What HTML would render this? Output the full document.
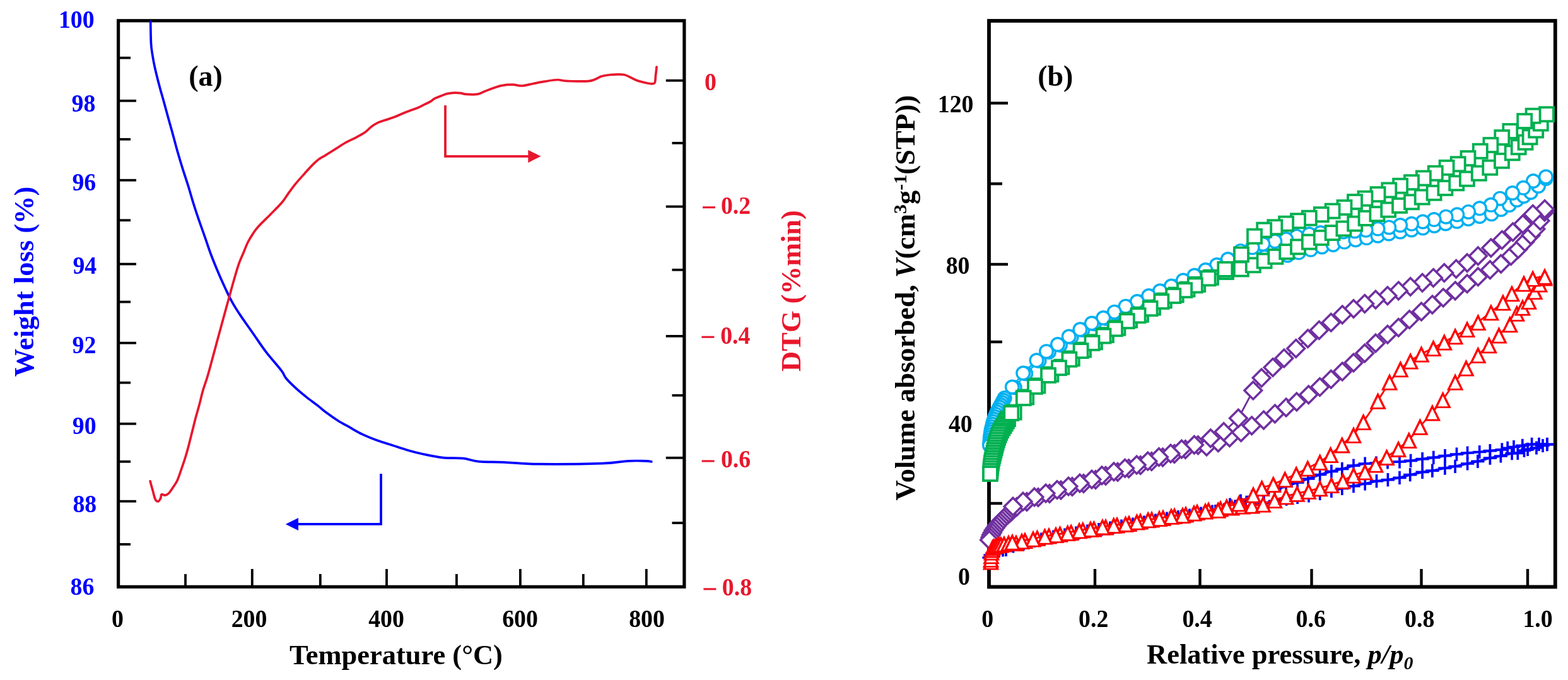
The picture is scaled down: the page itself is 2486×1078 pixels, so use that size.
<!DOCTYPE html>
<html><head><meta charset="utf-8"><title>Figure</title>
<style>html,body{margin:0;padding:0;background:#fff;}svg{display:block;}</style></head>
<body><svg width="2486" height="1078" viewBox="0 0 2486 1078">
<rect width="2486" height="1078" fill="#fff"/>
<rect x="187.6" y="32.8" width="897.3000000000001" height="897.5" fill="none" stroke="#000" stroke-width="5.2"/>
<line x1="187.6" y1="91.7" x2="207" y2="91.7" stroke="#000" stroke-width="3.8"/>
<line x1="187.6" y1="159.8" x2="216" y2="159.8" stroke="#000" stroke-width="3.8"/>
<line x1="187.6" y1="220.8" x2="207" y2="220.8" stroke="#000" stroke-width="3.8"/>
<line x1="187.6" y1="285.7" x2="216" y2="285.7" stroke="#000" stroke-width="3.8"/>
<line x1="187.6" y1="349.2" x2="207" y2="349.2" stroke="#000" stroke-width="3.8"/>
<line x1="187.6" y1="418.6" x2="216" y2="418.6" stroke="#000" stroke-width="3.8"/>
<line x1="187.6" y1="478.6" x2="207" y2="478.6" stroke="#000" stroke-width="3.8"/>
<line x1="187.6" y1="543.7" x2="216" y2="543.7" stroke="#000" stroke-width="3.8"/>
<line x1="187.6" y1="606.7" x2="207" y2="606.7" stroke="#000" stroke-width="3.8"/>
<line x1="187.6" y1="671.8" x2="216" y2="671.8" stroke="#000" stroke-width="3.8"/>
<line x1="187.6" y1="731.8" x2="207" y2="731.8" stroke="#000" stroke-width="3.8"/>
<line x1="187.6" y1="794.7" x2="216" y2="794.7" stroke="#000" stroke-width="3.8"/>
<line x1="187.6" y1="862.9" x2="207" y2="862.9" stroke="#000" stroke-width="3.8"/>
<line x1="1055.8" y1="127.7" x2="1084.9" y2="127.7" stroke="#000" stroke-width="3.8"/>
<line x1="1065.5" y1="226.8" x2="1084.9" y2="226.8" stroke="#000" stroke-width="3.8"/>
<line x1="1055.8" y1="327.5" x2="1084.9" y2="327.5" stroke="#000" stroke-width="3.8"/>
<line x1="1065.5" y1="427.8" x2="1084.9" y2="427.8" stroke="#000" stroke-width="3.8"/>
<line x1="1055.8" y1="532.9" x2="1084.9" y2="532.9" stroke="#000" stroke-width="3.8"/>
<line x1="1065.5" y1="626.8" x2="1084.9" y2="626.8" stroke="#000" stroke-width="3.8"/>
<line x1="1055.8" y1="725.8" x2="1084.9" y2="725.8" stroke="#000" stroke-width="3.8"/>
<line x1="1065.5" y1="829" x2="1084.9" y2="829" stroke="#000" stroke-width="3.8"/>
<line x1="294" y1="910" x2="294" y2="930.3" stroke="#000" stroke-width="3.8"/>
<line x1="399.8" y1="902" x2="399.8" y2="930.3" stroke="#000" stroke-width="3.8"/>
<line x1="507.8" y1="910" x2="507.8" y2="930.3" stroke="#000" stroke-width="3.8"/>
<line x1="613" y1="902" x2="613" y2="930.3" stroke="#000" stroke-width="3.8"/>
<line x1="723.9" y1="910" x2="723.9" y2="930.3" stroke="#000" stroke-width="3.8"/>
<line x1="824.9" y1="902" x2="824.9" y2="930.3" stroke="#000" stroke-width="3.8"/>
<line x1="924.8" y1="910" x2="924.8" y2="930.3" stroke="#000" stroke-width="3.8"/>
<line x1="1024.8" y1="902" x2="1024.8" y2="930.3" stroke="#000" stroke-width="3.8"/>
<rect x="1568" y="33" width="897.8000000000002" height="897.4" fill="none" stroke="#000" stroke-width="5.8"/>
<line x1="1568" y1="163.5" x2="1598" y2="163.5" stroke="#000" stroke-width="4.3999999999999995"/>
<line x1="1568" y1="291.3" x2="1589" y2="291.3" stroke="#000" stroke-width="4.3999999999999995"/>
<line x1="1568" y1="419" x2="1598" y2="419" stroke="#000" stroke-width="4.3999999999999995"/>
<line x1="1568" y1="542" x2="1589" y2="542" stroke="#000" stroke-width="4.3999999999999995"/>
<line x1="1568" y1="670" x2="1598" y2="670" stroke="#000" stroke-width="4.3999999999999995"/>
<line x1="1568" y1="798" x2="1589" y2="798" stroke="#000" stroke-width="4.3999999999999995"/>
<line x1="1736" y1="902" x2="1736" y2="930.4" stroke="#000" stroke-width="4.3999999999999995"/>
<line x1="1902.5" y1="902" x2="1902.5" y2="930.4" stroke="#000" stroke-width="4.3999999999999995"/>
<line x1="2079.5" y1="902" x2="2079.5" y2="930.4" stroke="#000" stroke-width="4.3999999999999995"/>
<line x1="2253.5" y1="902" x2="2253.5" y2="930.4" stroke="#000" stroke-width="4.3999999999999995"/>
<line x1="2422" y1="902" x2="2422" y2="930.4" stroke="#000" stroke-width="4.3999999999999995"/>
<g font-family='"Liberation Serif", "Times New Roman", serif' font-weight="bold">
<text transform="translate(121.3,43.8) scale(0.945,1)" font-size="40" fill="#0000FF" text-anchor="middle">100</text>
<text transform="translate(132.5,176.5) scale(0.945,1)" font-size="40" fill="#0000FF" text-anchor="middle">98</text>
<text transform="translate(133.3,302) scale(0.945,1)" font-size="40" fill="#0000FF" text-anchor="middle">96</text>
<text transform="translate(134.3,434) scale(0.945,1)" font-size="40" fill="#0000FF" text-anchor="middle">94</text>
<text transform="translate(133.5,559.5) scale(0.945,1)" font-size="40" fill="#0000FF" text-anchor="middle">92</text>
<text transform="translate(133.7,688.3) scale(0.945,1)" font-size="40" fill="#0000FF" text-anchor="middle">90</text>
<text transform="translate(134.3,812) scale(0.945,1)" font-size="40" fill="#0000FF" text-anchor="middle">88</text>
<text transform="translate(130.5,942.6) scale(0.945,1)" font-size="40" fill="#0000FF" text-anchor="middle">86</text>
<text transform="translate(186.5,994.1) scale(0.945,1)" font-size="40" fill="#000" text-anchor="middle">0</text>
<text transform="translate(395,994.1) scale(0.945,1)" font-size="40" fill="#000" text-anchor="middle">200</text>
<text transform="translate(612.5,994.1) scale(0.945,1)" font-size="40" fill="#000" text-anchor="middle">400</text>
<text transform="translate(824.5,994.1) scale(0.945,1)" font-size="40" fill="#000" text-anchor="middle">600</text>
<text transform="translate(1025.5,994.1) scale(0.945,1)" font-size="40" fill="#000" text-anchor="middle">800</text>
<text transform="translate(1126.5,142.8) scale(0.945,1)" font-size="40" fill="#E8172D" text-anchor="middle">0</text>
<rect x="1114" y="327.2" width="20" height="3.1" fill="#E8172D"/>
<text transform="translate(1166.5,339.2) scale(0.945,1)" font-size="40" fill="#E8172D" text-anchor="middle">0.2</text>
<rect x="1112.4" y="532.7" width="20" height="3.1" fill="#E8172D"/>
<text transform="translate(1165.8,544.7) scale(0.945,1)" font-size="40" fill="#E8172D" text-anchor="middle">0.4</text>
<rect x="1112.6" y="729.4" width="20" height="3.1" fill="#E8172D"/>
<text transform="translate(1166.5,741.4) scale(0.945,1)" font-size="40" fill="#E8172D" text-anchor="middle">0.6</text>
<rect x="1115.4" y="932.3" width="20" height="3.1" fill="#E8172D"/>
<text transform="translate(1168.4,944.3) scale(0.945,1)" font-size="40" fill="#E8172D" text-anchor="middle">0.8</text>
<text x="628" y="1052.5" font-size="44.5" fill="#000" text-anchor="middle">Temperature (°C)</text>
<text x="326" y="135.5" font-size="46" fill="#000" text-anchor="middle">(a)</text>
<text transform="translate(52.5,446.5) rotate(-90)" font-size="44.5" fill="#0000FF" text-anchor="middle" dy="0">Weight loss (%)</text>
<text transform="translate(1269,461) rotate(-90)" font-size="44.5" fill="#E8172D" text-anchor="middle">DTG (%min)</text>
<text transform="translate(1515.1,178.2) scale(0.945,1)" font-size="40" fill="#000" text-anchor="middle">120</text>
<text transform="translate(1518.6,433.9) scale(0.945,1)" font-size="40" fill="#000" text-anchor="middle">80</text>
<text transform="translate(1522.8,685.2) scale(0.945,1)" font-size="40" fill="#000" text-anchor="middle">40</text>
<text transform="translate(1528.5,926.6) scale(0.945,1)" font-size="40" fill="#000" text-anchor="middle">0</text>
<text transform="translate(1565.6,993.9) scale(0.945,1)" font-size="40" fill="#000" text-anchor="middle">0</text>
<text transform="translate(1733.7,993.9) scale(0.945,1)" font-size="40" fill="#000" text-anchor="middle">0.2</text>
<text transform="translate(1898,993.9) scale(0.945,1)" font-size="40" fill="#000" text-anchor="middle">0.4</text>
<text transform="translate(2078.2,993.9) scale(0.945,1)" font-size="40" fill="#000" text-anchor="middle">0.6</text>
<text transform="translate(2250.7,993.9) scale(0.945,1)" font-size="40" fill="#000" text-anchor="middle">0.8</text>
<text transform="translate(2438,993.9) scale(0.945,1)" font-size="40" fill="#000" text-anchor="middle">1.0</text>
<text x="1673.3" y="135.5" font-size="46" fill="#000" text-anchor="middle">(b)</text>
<text x="1818" y="1052" font-size="44.5" text-anchor="start">Relative pressure, <tspan font-style="italic">p/p</tspan><tspan font-style="italic" font-size="30" dy="9">0</tspan></text>
<text transform="translate(1449.8,472) rotate(-90)" font-size="44.5" text-anchor="middle">Volume absorbed, <tspan font-style="italic">V</tspan>(cm<tspan font-size="30" dy="-12.5">3</tspan><tspan dy="12.5">g</tspan><tspan font-size="30" dy="-12.5">-1</tspan><tspan dy="12.5">(STP))</tspan></text>
</g>
<path d="M238.7,34.2C238.8,40.0 239.0,60.4 239.5,69.0C240.0,77.6 240.5,79.2 241.5,85.7C242.5,92.2 243.8,99.7 245.7,108.0C247.5,116.3 250.3,127.0 252.6,135.8C254.9,144.6 257.3,152.5 259.6,160.8C261.9,169.2 264.2,177.6 266.5,185.9C268.8,194.2 270.9,201.6 273.5,210.9C276.1,220.2 279.0,231.8 281.8,241.5C284.6,251.2 287.4,260.5 290.2,269.4C293.0,278.3 295.8,286.2 298.5,295.0C301.2,303.8 303.8,313.2 306.5,322.0C309.2,330.8 311.9,338.9 315.0,347.8C318.1,356.8 321.6,366.4 324.8,375.7C328.1,385.0 331.0,394.2 334.5,403.5C338.0,412.8 341.8,422.0 345.7,431.3C349.6,440.6 354.5,451.3 358.2,459.2C361.9,467.1 364.0,471.7 367.9,478.6C371.8,485.6 376.2,492.5 381.8,500.9C387.4,509.2 394.8,519.4 401.3,528.7C407.8,538.0 413.4,546.9 420.8,556.6C428.2,566.4 440.4,580.0 445.9,587.2C451.4,594.4 449.7,595.1 453.8,600.0C457.9,604.9 464.9,611.6 470.5,616.7C476.1,621.8 481.6,626.2 487.2,630.6C492.8,635.0 498.8,639.1 503.9,643.1C509.0,647.1 512.6,650.6 518.0,654.6C523.4,658.6 530.0,663.2 536.0,667.0C542.0,670.8 547.6,673.6 554.0,677.2C560.4,680.8 566.8,684.8 574.3,688.4C581.8,692.0 591.2,695.7 599.1,698.6C607.0,701.5 613.7,703.3 621.6,705.8C629.5,708.3 638.1,711.3 646.4,713.7C654.7,716.1 661.8,718.0 671.2,720.0C680.6,722.0 692.2,724.5 702.7,725.6C713.2,726.7 724.9,725.7 734.3,726.7C743.7,727.7 748.2,730.7 759.1,731.7C770.0,732.7 783.8,732.1 799.6,732.8C815.4,733.5 827.8,735.4 853.7,735.7C879.6,736.0 931.4,735.4 955.0,734.6C978.6,733.8 984.0,731.4 995.6,730.8C1007.2,730.2 1018.7,730.6 1024.9,730.8C1031.1,731.0 1031.5,731.7 1032.8,731.9" fill="none" stroke="#0000FF" stroke-width="3.7" stroke-linejoin="round" stroke-linecap="round"/>
<path d="M238.1,762.8C238.8,765.3 240.9,773.2 242.3,778.1C243.7,783.0 244.9,789.2 246.4,792.0C247.9,794.8 249.8,795.2 251.2,794.8C252.6,794.3 254.0,791.1 254.8,789.3C255.6,787.4 255.0,784.4 256.2,783.7C257.3,783.0 259.8,785.3 261.7,785.1C263.6,784.9 265.2,784.4 267.3,782.3C269.4,780.2 272.0,776.1 274.3,772.6C276.6,769.1 278.9,766.5 281.2,761.4C283.5,756.3 286.1,747.9 288.2,741.9C290.3,735.9 291.9,731.2 293.8,725.2C295.7,719.2 297.5,712.8 299.3,705.8C301.1,698.8 303.0,690.9 304.9,683.5C306.8,676.1 308.6,668.2 310.5,661.2C312.4,654.2 314.1,648.7 316.0,641.7C317.9,634.8 319.6,626.5 321.6,619.5C323.6,612.5 326.3,605.4 328.0,600.0C329.7,594.6 329.4,595.4 331.7,587.2C333.9,579.0 338.5,562.1 341.5,551.0C344.5,539.9 347.0,530.6 349.8,520.4C352.6,510.2 355.6,499.1 358.2,489.8C360.8,480.5 362.8,473.1 365.1,464.7C367.4,456.3 369.8,447.6 372.1,439.7C374.4,431.8 376.7,423.9 379.0,417.4C381.3,410.9 383.7,406.3 386.0,400.7C388.3,395.1 390.4,389.1 393.0,384.0C395.6,378.9 398.5,374.3 401.3,370.1C404.1,365.9 405.1,364.1 409.7,359.0C414.3,353.9 423.1,345.7 429.2,339.5C435.3,333.3 441.8,327.1 446.3,321.8C450.9,316.5 452.8,312.7 456.5,307.6C460.2,302.5 464.4,296.6 468.8,291.2C473.2,285.8 478.7,279.8 483.1,274.9C487.5,270.0 491.6,265.4 495.3,261.6C499.0,257.9 502.1,255.0 505.5,252.4C508.9,249.8 511.3,249.0 515.7,246.3C520.1,243.6 526.5,239.5 532.0,236.1C537.5,232.7 542.9,228.9 548.4,225.9C553.9,222.9 559.6,220.5 564.7,217.8C569.8,215.1 574.9,212.5 579.0,209.6C583.1,206.7 585.8,202.9 589.2,200.4C592.6,197.9 596.0,195.9 599.4,194.3C602.8,192.7 605.5,192.2 609.6,190.8C613.7,189.4 619.1,187.9 623.9,186.1C628.7,184.3 633.8,181.8 638.2,180.0C642.6,178.2 646.3,176.8 650.4,175.3C654.5,173.8 659.0,172.4 662.7,170.8C666.5,169.2 669.5,167.4 672.9,165.7C676.3,164.0 680.4,162.2 683.1,160.6C685.8,159.0 685.8,157.8 689.2,156.1C692.6,154.4 700.2,151.7 703.5,150.4C706.8,149.2 705.9,149.1 708.7,148.6C711.5,148.1 716.7,147.4 720.3,147.2C723.9,147.0 727.3,147.2 730.4,147.6C733.5,148.0 734.8,149.1 739.1,149.4C743.5,149.7 751.7,150.1 756.5,149.4C761.3,148.7 764.0,146.6 768.1,145.0C772.2,143.4 776.5,141.6 781.1,140.0C785.7,138.4 790.3,136.6 795.6,135.6C800.9,134.6 807.6,134.1 812.9,134.2C818.2,134.3 822.1,136.2 827.4,136.0C832.7,135.8 838.8,133.8 844.8,132.7C850.8,131.5 857.1,130.1 863.6,129.1C870.1,128.1 878.1,126.6 883.9,126.5C889.7,126.4 889.9,128.1 898.4,128.4C906.9,128.7 925.4,129.6 934.6,128.4C943.8,127.2 947.9,122.8 953.4,121.1C958.9,119.4 961.9,118.9 967.9,118.5C973.9,118.1 982.9,117.1 989.6,118.5C996.4,119.9 1002.4,124.7 1008.4,126.9C1014.4,129.1 1021.0,130.8 1025.8,131.7C1030.6,132.5 1035.1,134.1 1037.4,132.0C1039.7,129.9 1039.0,123.3 1039.6,119.0C1040.2,114.7 1040.8,108.2 1041.0,106.0" fill="none" stroke="#E8172D" stroke-width="3.7" stroke-linejoin="round" stroke-linecap="round"/>
<path d="M604,751 V830.9 H472" fill="none" stroke="#0000FF" stroke-width="3.8"/>
<polygon points="452.8,831 473,821 473,841" fill="#0000FF"/>
<path d="M706,167 V247.8 H838" fill="none" stroke="#E8172D" stroke-width="3.8"/>
<polygon points="857.5,247.8 837.3,237.8 837.3,257.9" fill="#E8172D"/>
<g>
<polyline points="1568.0,884.0 1570.0,880.0 1573.0,877.0 1578.0,875.0 1584.0,873.0 1590.0,872.0 1595.0,871.5 1606.5,866.0 1623.0,862.0 1640.0,857.5 1651.0,855.0 1670.0,851.0 1688.0,848.0 1706.0,845.0 1724.0,842.0 1742.0,839.5 1760.0,837.0 1778.0,834.0 1796.0,831.0 1814.0,828.0 1832.0,825.0 1850.0,822.0 1868.0,819.5 1886.0,817.0 1904.0,814.0 1922.0,811.0 1941.0,808.0 1958.0,806.0 1975.0,803.0 1990.0,800.0 2003.9,797.6 2021.4,794.3 2039.6,791.1 2057.1,788.5 2075.0,786.0 2092.7,782.3 2110.9,778.4 2127.8,774.5 2146.0,770.6 2164.2,766.8 2182.5,762.7 2200.4,760.6 2219.0,757.3 2235.7,752.7 2255.1,748.4 2270.9,746.2 2290.9,742.1 2307.1,739.3 2326.6,735.0 2342.9,731.3 2362.4,726.1 2379.4,723.0 2397.1,718.7 2406.3,718.3 2416.5,714.2 2422.1,712.4 2436.0,710.0 2446.0,706.5 2453.0,704.6" fill="none" stroke="#0000FF" stroke-width="3.6" stroke-linejoin="round"/>
<path d="M1579.4,872.0H1600.6M1590.0,861.4V882.6" stroke="#0000FF" stroke-width="3.7" fill="none"/>
<path d="M1573.4,873.0H1594.6M1584.0,862.4V883.6" stroke="#0000FF" stroke-width="3.7" fill="none"/>
<path d="M1567.4,875.0H1588.6M1578.0,864.4V885.6" stroke="#0000FF" stroke-width="3.7" fill="none"/>
<path d="M1562.4,877.0H1583.6M1573.0,866.4V887.6" stroke="#0000FF" stroke-width="3.7" fill="none"/>
<path d="M1559.4,880.0H1580.6M1570.0,869.4V890.6" stroke="#0000FF" stroke-width="3.7" fill="none"/>
<path d="M1557.4,884.0H1578.6M1568.0,873.4V894.6" stroke="#0000FF" stroke-width="3.7" fill="none"/>
<path d="M1584.4,871.5H1605.6M1595.0,860.9V882.1" stroke="#0000FF" stroke-width="3.7" fill="none"/>
<path d="M1595.9,866.0H1617.1M1606.5,855.4V876.6" stroke="#0000FF" stroke-width="3.7" fill="none"/>
<path d="M1612.4,862.0H1633.6M1623.0,851.4V872.6" stroke="#0000FF" stroke-width="3.7" fill="none"/>
<path d="M1629.4,857.5H1650.6M1640.0,846.9V868.1" stroke="#0000FF" stroke-width="3.7" fill="none"/>
<path d="M1640.4,855.0H1661.6M1651.0,844.4V865.6" stroke="#0000FF" stroke-width="3.7" fill="none"/>
<path d="M1659.4,851.0H1680.6M1670.0,840.4V861.6" stroke="#0000FF" stroke-width="3.7" fill="none"/>
<path d="M1677.4,848.0H1698.6M1688.0,837.4V858.6" stroke="#0000FF" stroke-width="3.7" fill="none"/>
<path d="M1695.4,845.0H1716.6M1706.0,834.4V855.6" stroke="#0000FF" stroke-width="3.7" fill="none"/>
<path d="M1713.4,842.0H1734.6M1724.0,831.4V852.6" stroke="#0000FF" stroke-width="3.7" fill="none"/>
<path d="M1731.4,839.5H1752.6M1742.0,828.9V850.1" stroke="#0000FF" stroke-width="3.7" fill="none"/>
<path d="M1749.4,837.0H1770.6M1760.0,826.4V847.6" stroke="#0000FF" stroke-width="3.7" fill="none"/>
<path d="M1767.4,834.0H1788.6M1778.0,823.4V844.6" stroke="#0000FF" stroke-width="3.7" fill="none"/>
<path d="M1785.4,831.0H1806.6M1796.0,820.4V841.6" stroke="#0000FF" stroke-width="3.7" fill="none"/>
<path d="M1803.4,828.0H1824.6M1814.0,817.4V838.6" stroke="#0000FF" stroke-width="3.7" fill="none"/>
<path d="M1821.4,825.0H1842.6M1832.0,814.4V835.6" stroke="#0000FF" stroke-width="3.7" fill="none"/>
<path d="M1839.4,822.0H1860.6M1850.0,811.4V832.6" stroke="#0000FF" stroke-width="3.7" fill="none"/>
<path d="M1857.4,819.5H1878.6M1868.0,808.9V830.1" stroke="#0000FF" stroke-width="3.7" fill="none"/>
<path d="M1875.4,817.0H1896.6M1886.0,806.4V827.6" stroke="#0000FF" stroke-width="3.7" fill="none"/>
<path d="M1893.4,814.0H1914.6M1904.0,803.4V824.6" stroke="#0000FF" stroke-width="3.7" fill="none"/>
<path d="M1911.4,811.0H1932.6M1922.0,800.4V821.6" stroke="#0000FF" stroke-width="3.7" fill="none"/>
<path d="M1930.4,808.0H1951.6M1941.0,797.4V818.6" stroke="#0000FF" stroke-width="3.7" fill="none"/>
<path d="M1947.4,806.0H1968.6M1958.0,795.4V816.6" stroke="#0000FF" stroke-width="3.7" fill="none"/>
<path d="M1964.4,803.0H1985.6M1975.0,792.4V813.6" stroke="#0000FF" stroke-width="3.7" fill="none"/>
<path d="M1979.4,800.0H2000.6M1990.0,789.4V810.6" stroke="#0000FF" stroke-width="3.7" fill="none"/>
<path d="M1993.3,797.6H2014.5M2003.9,787.0V808.2" stroke="#0000FF" stroke-width="3.7" fill="none"/>
<path d="M2010.8,794.3H2032.0M2021.4,783.7V804.9" stroke="#0000FF" stroke-width="3.7" fill="none"/>
<path d="M2029.0,791.1H2050.2M2039.6,780.5V801.7" stroke="#0000FF" stroke-width="3.7" fill="none"/>
<path d="M2046.5,788.5H2067.7M2057.1,777.9V799.1" stroke="#0000FF" stroke-width="3.7" fill="none"/>
<path d="M2064.4,786.0H2085.6M2075.0,775.4V796.6" stroke="#0000FF" stroke-width="3.7" fill="none"/>
<path d="M2082.1,782.3H2103.3M2092.7,771.7V792.9" stroke="#0000FF" stroke-width="3.7" fill="none"/>
<path d="M2100.3,778.4H2121.5M2110.9,767.8V789.0" stroke="#0000FF" stroke-width="3.7" fill="none"/>
<path d="M2117.2,774.5H2138.4M2127.8,763.9V785.1" stroke="#0000FF" stroke-width="3.7" fill="none"/>
<path d="M2135.4,770.6H2156.6M2146.0,760.0V781.2" stroke="#0000FF" stroke-width="3.7" fill="none"/>
<path d="M2153.6,766.8H2174.8M2164.2,756.2V777.4" stroke="#0000FF" stroke-width="3.7" fill="none"/>
<path d="M2171.9,762.7H2193.1M2182.5,752.1V773.3" stroke="#0000FF" stroke-width="3.7" fill="none"/>
<path d="M2189.8,760.6H2211.0M2200.4,750.0V771.2" stroke="#0000FF" stroke-width="3.7" fill="none"/>
<path d="M2208.4,757.3H2229.6M2219.0,746.7V767.9" stroke="#0000FF" stroke-width="3.7" fill="none"/>
<path d="M2225.1,752.7H2246.3M2235.7,742.1V763.3" stroke="#0000FF" stroke-width="3.7" fill="none"/>
<path d="M2244.5,748.4H2265.7M2255.1,737.8V759.0" stroke="#0000FF" stroke-width="3.7" fill="none"/>
<path d="M2260.3,746.2H2281.5M2270.9,735.6V756.8" stroke="#0000FF" stroke-width="3.7" fill="none"/>
<path d="M2280.3,742.1H2301.5M2290.9,731.5V752.7" stroke="#0000FF" stroke-width="3.7" fill="none"/>
<path d="M2296.5,739.3H2317.7M2307.1,728.7V749.9" stroke="#0000FF" stroke-width="3.7" fill="none"/>
<path d="M2316.0,735.0H2337.2M2326.6,724.4V745.6" stroke="#0000FF" stroke-width="3.7" fill="none"/>
<path d="M2332.3,731.3H2353.5M2342.9,720.7V741.9" stroke="#0000FF" stroke-width="3.7" fill="none"/>
<path d="M2351.8,726.1H2373.0M2362.4,715.5V736.7" stroke="#0000FF" stroke-width="3.7" fill="none"/>
<path d="M2368.8,723.0H2390.0M2379.4,712.4V733.6" stroke="#0000FF" stroke-width="3.7" fill="none"/>
<path d="M2386.5,718.7H2407.7M2397.1,708.1V729.3" stroke="#0000FF" stroke-width="3.7" fill="none"/>
<path d="M2395.7,718.3H2416.9M2406.3,707.7V728.9" stroke="#0000FF" stroke-width="3.7" fill="none"/>
<path d="M2405.9,714.2H2427.1M2416.5,703.6V724.8" stroke="#0000FF" stroke-width="3.7" fill="none"/>
<path d="M2411.5,712.4H2432.7M2422.1,701.8V723.0" stroke="#0000FF" stroke-width="3.7" fill="none"/>
<path d="M2425.4,710.0H2446.6M2436.0,699.4V720.6" stroke="#0000FF" stroke-width="3.7" fill="none"/>
<path d="M2435.4,706.5H2456.6M2446.0,695.9V717.1" stroke="#0000FF" stroke-width="3.7" fill="none"/>
<path d="M2442.4,704.6H2463.6M2453.0,694.0V715.2" stroke="#0000FF" stroke-width="3.7" fill="none"/>
<polyline points="2453.0,704.4 2440.0,704.4 2428.6,704.4 2413.8,706.3 2400.0,708.5 2390.2,710.4 2381.3,712.8 2362.4,714.6 2345.7,716.5 2326.6,718.0 2309.5,720.2 2291.0,722.6 2272.8,725.4 2255.1,727.6 2236.6,730.4 2219.0,732.0 2200.0,733.0 2182.0,734.0 2164.2,735.0 2146.0,738.2 2127.8,743.4 2110.9,747.3 2092.7,752.5 2074.0,759.0 2057.0,765.0 2039.0,771.0 2021.0,776.5 2003.0,782.0 1985.0,787.5 1967.0,794.0 1950.0,800.0 1946.0,807.5 1927.0,810.5 1909.0,813.5 1891.0,816.5 1873.0,819.0 1855.0,821.5 1837.0,824.5 1819.0,827.5 1801.0,830.5 1783.0,833.5 1765.0,836.5 1747.0,839.0 1729.0,841.5 1711.0,844.5 1693.0,847.5 1675.0,850.5 1656.0,854.5" fill="none" stroke="#0000FF" stroke-width="3.6" stroke-linejoin="round"/>
<path d="M2442.4,704.4H2463.6M2453.0,693.8V715.0" stroke="#0000FF" stroke-width="3.7" fill="none"/>
<path d="M2429.4,704.4H2450.6M2440.0,693.8V715.0" stroke="#0000FF" stroke-width="3.7" fill="none"/>
<path d="M2418.0,704.4H2439.2M2428.6,693.8V715.0" stroke="#0000FF" stroke-width="3.7" fill="none"/>
<path d="M2403.2,706.3H2424.4M2413.8,695.7V716.9" stroke="#0000FF" stroke-width="3.7" fill="none"/>
<path d="M2389.4,708.5H2410.6M2400.0,697.9V719.1" stroke="#0000FF" stroke-width="3.7" fill="none"/>
<path d="M2379.6,710.4H2400.8M2390.2,699.8V721.0" stroke="#0000FF" stroke-width="3.7" fill="none"/>
<path d="M2370.7,712.8H2391.9M2381.3,702.2V723.4" stroke="#0000FF" stroke-width="3.7" fill="none"/>
<path d="M2351.8,714.6H2373.0M2362.4,704.0V725.2" stroke="#0000FF" stroke-width="3.7" fill="none"/>
<path d="M2335.1,716.5H2356.3M2345.7,705.9V727.1" stroke="#0000FF" stroke-width="3.7" fill="none"/>
<path d="M2316.0,718.0H2337.2M2326.6,707.4V728.6" stroke="#0000FF" stroke-width="3.7" fill="none"/>
<path d="M2298.9,720.2H2320.1M2309.5,709.6V730.8" stroke="#0000FF" stroke-width="3.7" fill="none"/>
<path d="M2280.4,722.6H2301.6M2291.0,712.0V733.2" stroke="#0000FF" stroke-width="3.7" fill="none"/>
<path d="M2262.2,725.4H2283.4M2272.8,714.8V736.0" stroke="#0000FF" stroke-width="3.7" fill="none"/>
<path d="M2244.5,727.6H2265.7M2255.1,717.0V738.2" stroke="#0000FF" stroke-width="3.7" fill="none"/>
<path d="M2226.0,730.4H2247.2M2236.6,719.8V741.0" stroke="#0000FF" stroke-width="3.7" fill="none"/>
<path d="M2208.4,732.0H2229.6M2219.0,721.4V742.6" stroke="#0000FF" stroke-width="3.7" fill="none"/>
<path d="M2189.4,733.0H2210.6M2200.0,722.4V743.6" stroke="#0000FF" stroke-width="3.7" fill="none"/>
<path d="M2171.4,734.0H2192.6M2182.0,723.4V744.6" stroke="#0000FF" stroke-width="3.7" fill="none"/>
<path d="M2153.6,735.0H2174.8M2164.2,724.4V745.6" stroke="#0000FF" stroke-width="3.7" fill="none"/>
<path d="M2135.4,738.2H2156.6M2146.0,727.6V748.8" stroke="#0000FF" stroke-width="3.7" fill="none"/>
<path d="M2117.2,743.4H2138.4M2127.8,732.8V754.0" stroke="#0000FF" stroke-width="3.7" fill="none"/>
<path d="M2100.3,747.3H2121.5M2110.9,736.7V757.9" stroke="#0000FF" stroke-width="3.7" fill="none"/>
<path d="M2082.1,752.5H2103.3M2092.7,741.9V763.1" stroke="#0000FF" stroke-width="3.7" fill="none"/>
<path d="M2063.4,759.0H2084.6M2074.0,748.4V769.6" stroke="#0000FF" stroke-width="3.7" fill="none"/>
<path d="M2046.4,765.0H2067.6M2057.0,754.4V775.6" stroke="#0000FF" stroke-width="3.7" fill="none"/>
<path d="M2028.4,771.0H2049.6M2039.0,760.4V781.6" stroke="#0000FF" stroke-width="3.7" fill="none"/>
<path d="M2010.4,776.5H2031.6M2021.0,765.9V787.1" stroke="#0000FF" stroke-width="3.7" fill="none"/>
<path d="M1992.4,782.0H2013.6M2003.0,771.4V792.6" stroke="#0000FF" stroke-width="3.7" fill="none"/>
<path d="M1974.4,787.5H1995.6M1985.0,776.9V798.1" stroke="#0000FF" stroke-width="3.7" fill="none"/>
<path d="M1956.4,794.0H1977.6M1967.0,783.4V804.6" stroke="#0000FF" stroke-width="3.7" fill="none"/>
<path d="M1939.4,800.0H1960.6M1950.0,789.4V810.6" stroke="#0000FF" stroke-width="3.7" fill="none"/>
<path d="M1935.4,807.5H1956.6M1946.0,796.9V818.1" stroke="#0000FF" stroke-width="3.7" fill="none"/>
<path d="M1916.4,810.5H1937.6M1927.0,799.9V821.1" stroke="#0000FF" stroke-width="3.7" fill="none"/>
<path d="M1898.4,813.5H1919.6M1909.0,802.9V824.1" stroke="#0000FF" stroke-width="3.7" fill="none"/>
<path d="M1880.4,816.5H1901.6M1891.0,805.9V827.1" stroke="#0000FF" stroke-width="3.7" fill="none"/>
<path d="M1862.4,819.0H1883.6M1873.0,808.4V829.6" stroke="#0000FF" stroke-width="3.7" fill="none"/>
<path d="M1844.4,821.5H1865.6M1855.0,810.9V832.1" stroke="#0000FF" stroke-width="3.7" fill="none"/>
<path d="M1826.4,824.5H1847.6M1837.0,813.9V835.1" stroke="#0000FF" stroke-width="3.7" fill="none"/>
<path d="M1808.4,827.5H1829.6M1819.0,816.9V838.1" stroke="#0000FF" stroke-width="3.7" fill="none"/>
<path d="M1790.4,830.5H1811.6M1801.0,819.9V841.1" stroke="#0000FF" stroke-width="3.7" fill="none"/>
<path d="M1772.4,833.5H1793.6M1783.0,822.9V844.1" stroke="#0000FF" stroke-width="3.7" fill="none"/>
<path d="M1754.4,836.5H1775.6M1765.0,825.9V847.1" stroke="#0000FF" stroke-width="3.7" fill="none"/>
<path d="M1736.4,839.0H1757.6M1747.0,828.4V849.6" stroke="#0000FF" stroke-width="3.7" fill="none"/>
<path d="M1718.4,841.5H1739.6M1729.0,830.9V852.1" stroke="#0000FF" stroke-width="3.7" fill="none"/>
<path d="M1700.4,844.5H1721.6M1711.0,833.9V855.1" stroke="#0000FF" stroke-width="3.7" fill="none"/>
<path d="M1682.4,847.5H1703.6M1693.0,836.9V858.1" stroke="#0000FF" stroke-width="3.7" fill="none"/>
<path d="M1664.4,850.5H1685.6M1675.0,839.9V861.1" stroke="#0000FF" stroke-width="3.7" fill="none"/>
<path d="M1645.4,854.5H1666.6M1656.0,843.9V865.1" stroke="#0000FF" stroke-width="3.7" fill="none"/>
<polyline points="1569.0,706.0 1569.3,701.8 1569.6,697.6 1569.9,693.4 1570.5,689.3 1571.1,685.1 1571.8,681.0 1572.8,676.9 1573.8,672.8 1574.8,668.7 1576.2,664.8 1577.6,660.8 1579.1,656.9 1580.9,653.1 1582.8,649.4 1584.8,645.6 1586.8,642.0 1588.8,638.3 1590.8,634.6 1592.7,630.9 1608.8,614.3 1626.2,592.3 1647.5,572.1 1663.0,558.0 1681.0,546.9 1698.7,534.3 1716.5,523.1 1734.9,513.3 1753.3,504.8 1770.8,495.5 1788.6,486.5 1806.9,478.8 1825.3,469.8 1843.1,462.1 1861.0,454.3 1879.9,445.4 1897.7,437.6 1915.3,428.8 1933.2,420.8 1951.0,413.0 1967.0,411.5 1988.0,409.0 2005.0,407.5 2023.0,405.5 2041.3,404.7 2059.1,400.3 2078.1,395.8 2095.9,391.4 2113.7,388.0 2131.5,383.6 2149.3,380.2 2166.7,377.1 2184.5,373.7 2202.0,370.5 2220.0,367.5 2238.0,364.5 2256.0,361.5 2274.0,358.0 2292.0,354.5 2310.0,351.0 2328.0,347.0 2346.0,343.0 2364.8,339.2 2380.0,332.0 2393.0,325.0 2405.0,317.0 2416.0,311.0 2427.0,305.0 2439.0,295.0 2451.0,283.0" fill="none" stroke="#00B0F0" stroke-width="2.8" stroke-linejoin="round"/>
<circle cx="1592.7" cy="630.9" r="10.3" fill="#fff" stroke="#00B0F0" stroke-width="3.4"/>
<circle cx="1590.8" cy="634.6" r="10.3" fill="#fff" stroke="#00B0F0" stroke-width="3.4"/>
<circle cx="1588.8" cy="638.3" r="10.3" fill="#fff" stroke="#00B0F0" stroke-width="3.4"/>
<circle cx="1586.8" cy="642.0" r="10.3" fill="#fff" stroke="#00B0F0" stroke-width="3.4"/>
<circle cx="1584.8" cy="645.6" r="10.3" fill="#fff" stroke="#00B0F0" stroke-width="3.4"/>
<circle cx="1582.8" cy="649.4" r="10.3" fill="#fff" stroke="#00B0F0" stroke-width="3.4"/>
<circle cx="1580.9" cy="653.1" r="10.3" fill="#fff" stroke="#00B0F0" stroke-width="3.4"/>
<circle cx="1579.1" cy="656.9" r="10.3" fill="#fff" stroke="#00B0F0" stroke-width="3.4"/>
<circle cx="1577.6" cy="660.8" r="10.3" fill="#fff" stroke="#00B0F0" stroke-width="3.4"/>
<circle cx="1576.2" cy="664.8" r="10.3" fill="#fff" stroke="#00B0F0" stroke-width="3.4"/>
<circle cx="1574.8" cy="668.7" r="10.3" fill="#fff" stroke="#00B0F0" stroke-width="3.4"/>
<circle cx="1573.8" cy="672.8" r="10.3" fill="#fff" stroke="#00B0F0" stroke-width="3.4"/>
<circle cx="1572.8" cy="676.9" r="10.3" fill="#fff" stroke="#00B0F0" stroke-width="3.4"/>
<circle cx="1571.8" cy="681.0" r="10.3" fill="#fff" stroke="#00B0F0" stroke-width="3.4"/>
<circle cx="1571.1" cy="685.1" r="10.3" fill="#fff" stroke="#00B0F0" stroke-width="3.4"/>
<circle cx="1570.5" cy="689.3" r="10.3" fill="#fff" stroke="#00B0F0" stroke-width="3.4"/>
<circle cx="1569.9" cy="693.4" r="10.3" fill="#fff" stroke="#00B0F0" stroke-width="3.4"/>
<circle cx="1569.6" cy="697.6" r="10.3" fill="#fff" stroke="#00B0F0" stroke-width="3.4"/>
<circle cx="1569.3" cy="701.8" r="10.3" fill="#fff" stroke="#00B0F0" stroke-width="3.4"/>
<circle cx="1569.0" cy="706.0" r="10.3" fill="#fff" stroke="#00B0F0" stroke-width="3.4"/>
<circle cx="1608.8" cy="614.3" r="10.3" fill="#fff" stroke="#00B0F0" stroke-width="3.4"/>
<circle cx="1626.2" cy="592.3" r="10.3" fill="#fff" stroke="#00B0F0" stroke-width="3.4"/>
<circle cx="1647.5" cy="572.1" r="10.3" fill="#fff" stroke="#00B0F0" stroke-width="3.4"/>
<circle cx="1663.0" cy="558.0" r="10.3" fill="#fff" stroke="#00B0F0" stroke-width="3.4"/>
<circle cx="1681.0" cy="546.9" r="10.3" fill="#fff" stroke="#00B0F0" stroke-width="3.4"/>
<circle cx="1698.7" cy="534.3" r="10.3" fill="#fff" stroke="#00B0F0" stroke-width="3.4"/>
<circle cx="1716.5" cy="523.1" r="10.3" fill="#fff" stroke="#00B0F0" stroke-width="3.4"/>
<circle cx="1734.9" cy="513.3" r="10.3" fill="#fff" stroke="#00B0F0" stroke-width="3.4"/>
<circle cx="1753.3" cy="504.8" r="10.3" fill="#fff" stroke="#00B0F0" stroke-width="3.4"/>
<circle cx="1770.8" cy="495.5" r="10.3" fill="#fff" stroke="#00B0F0" stroke-width="3.4"/>
<circle cx="1788.6" cy="486.5" r="10.3" fill="#fff" stroke="#00B0F0" stroke-width="3.4"/>
<circle cx="1806.9" cy="478.8" r="10.3" fill="#fff" stroke="#00B0F0" stroke-width="3.4"/>
<circle cx="1825.3" cy="469.8" r="10.3" fill="#fff" stroke="#00B0F0" stroke-width="3.4"/>
<circle cx="1843.1" cy="462.1" r="10.3" fill="#fff" stroke="#00B0F0" stroke-width="3.4"/>
<circle cx="1861.0" cy="454.3" r="10.3" fill="#fff" stroke="#00B0F0" stroke-width="3.4"/>
<circle cx="1879.9" cy="445.4" r="10.3" fill="#fff" stroke="#00B0F0" stroke-width="3.4"/>
<circle cx="1897.7" cy="437.6" r="10.3" fill="#fff" stroke="#00B0F0" stroke-width="3.4"/>
<circle cx="1915.3" cy="428.8" r="10.3" fill="#fff" stroke="#00B0F0" stroke-width="3.4"/>
<circle cx="1933.2" cy="420.8" r="10.3" fill="#fff" stroke="#00B0F0" stroke-width="3.4"/>
<circle cx="1951.0" cy="413.0" r="10.3" fill="#fff" stroke="#00B0F0" stroke-width="3.4"/>
<circle cx="1967.0" cy="411.5" r="10.3" fill="#fff" stroke="#00B0F0" stroke-width="3.4"/>
<circle cx="1988.0" cy="409.0" r="10.3" fill="#fff" stroke="#00B0F0" stroke-width="3.4"/>
<circle cx="2005.0" cy="407.5" r="10.3" fill="#fff" stroke="#00B0F0" stroke-width="3.4"/>
<circle cx="2023.0" cy="405.5" r="10.3" fill="#fff" stroke="#00B0F0" stroke-width="3.4"/>
<circle cx="2041.3" cy="404.7" r="10.3" fill="#fff" stroke="#00B0F0" stroke-width="3.4"/>
<circle cx="2059.1" cy="400.3" r="10.3" fill="#fff" stroke="#00B0F0" stroke-width="3.4"/>
<circle cx="2078.1" cy="395.8" r="10.3" fill="#fff" stroke="#00B0F0" stroke-width="3.4"/>
<circle cx="2095.9" cy="391.4" r="10.3" fill="#fff" stroke="#00B0F0" stroke-width="3.4"/>
<circle cx="2113.7" cy="388.0" r="10.3" fill="#fff" stroke="#00B0F0" stroke-width="3.4"/>
<circle cx="2131.5" cy="383.6" r="10.3" fill="#fff" stroke="#00B0F0" stroke-width="3.4"/>
<circle cx="2149.3" cy="380.2" r="10.3" fill="#fff" stroke="#00B0F0" stroke-width="3.4"/>
<circle cx="2166.7" cy="377.1" r="10.3" fill="#fff" stroke="#00B0F0" stroke-width="3.4"/>
<circle cx="2184.5" cy="373.7" r="10.3" fill="#fff" stroke="#00B0F0" stroke-width="3.4"/>
<circle cx="2202.0" cy="370.5" r="10.3" fill="#fff" stroke="#00B0F0" stroke-width="3.4"/>
<circle cx="2220.0" cy="367.5" r="10.3" fill="#fff" stroke="#00B0F0" stroke-width="3.4"/>
<circle cx="2238.0" cy="364.5" r="10.3" fill="#fff" stroke="#00B0F0" stroke-width="3.4"/>
<circle cx="2256.0" cy="361.5" r="10.3" fill="#fff" stroke="#00B0F0" stroke-width="3.4"/>
<circle cx="2274.0" cy="358.0" r="10.3" fill="#fff" stroke="#00B0F0" stroke-width="3.4"/>
<circle cx="2292.0" cy="354.5" r="10.3" fill="#fff" stroke="#00B0F0" stroke-width="3.4"/>
<circle cx="2310.0" cy="351.0" r="10.3" fill="#fff" stroke="#00B0F0" stroke-width="3.4"/>
<circle cx="2328.0" cy="347.0" r="10.3" fill="#fff" stroke="#00B0F0" stroke-width="3.4"/>
<circle cx="2346.0" cy="343.0" r="10.3" fill="#fff" stroke="#00B0F0" stroke-width="3.4"/>
<circle cx="2364.8" cy="339.2" r="10.3" fill="#fff" stroke="#00B0F0" stroke-width="3.4"/>
<circle cx="2380.0" cy="332.0" r="10.3" fill="#fff" stroke="#00B0F0" stroke-width="3.4"/>
<circle cx="2393.0" cy="325.0" r="10.3" fill="#fff" stroke="#00B0F0" stroke-width="3.4"/>
<circle cx="2405.0" cy="317.0" r="10.3" fill="#fff" stroke="#00B0F0" stroke-width="3.4"/>
<circle cx="2416.0" cy="311.0" r="10.3" fill="#fff" stroke="#00B0F0" stroke-width="3.4"/>
<circle cx="2427.0" cy="305.0" r="10.3" fill="#fff" stroke="#00B0F0" stroke-width="3.4"/>
<circle cx="2439.0" cy="295.0" r="10.3" fill="#fff" stroke="#00B0F0" stroke-width="3.4"/>
<circle cx="2451.0" cy="283.0" r="10.3" fill="#fff" stroke="#00B0F0" stroke-width="3.4"/>
<polyline points="2451.0,280.3 2431.0,287.0 2415.2,297.8 2398.0,306.0 2378.2,314.7 2363.7,324.8 2345.9,330.3 2328.1,335.9 2310.3,340.3 2292.5,343.7 2273.6,348.1 2255.8,351.5 2238.0,354.8 2220.1,357.0 2202.3,360.4 2184.5,362.6 2165.6,364.8 2148.0,366.5 2130.0,367.5 2112.0,368.3 2093.7,369.1 2075.8,371.3 2055.8,374.7 2039.1,379.1 2021.3,382.4 2002.4,386.9 1985.7,392.3 1966.8,397.9 1946.8,411.0 1929.2,420.0 1911.3,428.0 1893.7,436.8 1875.9,444.6 1857.0,453.5 1839.1,461.3 1821.3,469.0 1802.9,478.0 1784.6,485.7 1766.8,494.7 1749.3,504.0 1730.9,512.5 1712.5,522.3 1694.7,533.5 1677.0,546.1 1659.0,557.2 1643.5,571.3 1622.2,591.5 1604.8,613.5" fill="none" stroke="#00B0F0" stroke-width="2.8" stroke-linejoin="round"/>
<circle cx="2451.0" cy="280.3" r="10.3" fill="#fff" stroke="#00B0F0" stroke-width="3.4"/>
<circle cx="2431.0" cy="287.0" r="10.3" fill="#fff" stroke="#00B0F0" stroke-width="3.4"/>
<circle cx="2415.2" cy="297.8" r="10.3" fill="#fff" stroke="#00B0F0" stroke-width="3.4"/>
<circle cx="2398.0" cy="306.0" r="10.3" fill="#fff" stroke="#00B0F0" stroke-width="3.4"/>
<circle cx="2378.2" cy="314.7" r="10.3" fill="#fff" stroke="#00B0F0" stroke-width="3.4"/>
<circle cx="2363.7" cy="324.8" r="10.3" fill="#fff" stroke="#00B0F0" stroke-width="3.4"/>
<circle cx="2345.9" cy="330.3" r="10.3" fill="#fff" stroke="#00B0F0" stroke-width="3.4"/>
<circle cx="2328.1" cy="335.9" r="10.3" fill="#fff" stroke="#00B0F0" stroke-width="3.4"/>
<circle cx="2310.3" cy="340.3" r="10.3" fill="#fff" stroke="#00B0F0" stroke-width="3.4"/>
<circle cx="2292.5" cy="343.7" r="10.3" fill="#fff" stroke="#00B0F0" stroke-width="3.4"/>
<circle cx="2273.6" cy="348.1" r="10.3" fill="#fff" stroke="#00B0F0" stroke-width="3.4"/>
<circle cx="2255.8" cy="351.5" r="10.3" fill="#fff" stroke="#00B0F0" stroke-width="3.4"/>
<circle cx="2238.0" cy="354.8" r="10.3" fill="#fff" stroke="#00B0F0" stroke-width="3.4"/>
<circle cx="2220.1" cy="357.0" r="10.3" fill="#fff" stroke="#00B0F0" stroke-width="3.4"/>
<circle cx="2202.3" cy="360.4" r="10.3" fill="#fff" stroke="#00B0F0" stroke-width="3.4"/>
<circle cx="2184.5" cy="362.6" r="10.3" fill="#fff" stroke="#00B0F0" stroke-width="3.4"/>
<circle cx="2165.6" cy="364.8" r="10.3" fill="#fff" stroke="#00B0F0" stroke-width="3.4"/>
<circle cx="2148.0" cy="366.5" r="10.3" fill="#fff" stroke="#00B0F0" stroke-width="3.4"/>
<circle cx="2130.0" cy="367.5" r="10.3" fill="#fff" stroke="#00B0F0" stroke-width="3.4"/>
<circle cx="2112.0" cy="368.3" r="10.3" fill="#fff" stroke="#00B0F0" stroke-width="3.4"/>
<circle cx="2093.7" cy="369.1" r="10.3" fill="#fff" stroke="#00B0F0" stroke-width="3.4"/>
<circle cx="2075.8" cy="371.3" r="10.3" fill="#fff" stroke="#00B0F0" stroke-width="3.4"/>
<circle cx="2055.8" cy="374.7" r="10.3" fill="#fff" stroke="#00B0F0" stroke-width="3.4"/>
<circle cx="2039.1" cy="379.1" r="10.3" fill="#fff" stroke="#00B0F0" stroke-width="3.4"/>
<circle cx="2021.3" cy="382.4" r="10.3" fill="#fff" stroke="#00B0F0" stroke-width="3.4"/>
<circle cx="2002.4" cy="386.9" r="10.3" fill="#fff" stroke="#00B0F0" stroke-width="3.4"/>
<circle cx="1985.7" cy="392.3" r="10.3" fill="#fff" stroke="#00B0F0" stroke-width="3.4"/>
<circle cx="1966.8" cy="397.9" r="10.3" fill="#fff" stroke="#00B0F0" stroke-width="3.4"/>
<circle cx="1946.8" cy="411.0" r="10.3" fill="#fff" stroke="#00B0F0" stroke-width="3.4"/>
<circle cx="1929.2" cy="420.0" r="10.3" fill="#fff" stroke="#00B0F0" stroke-width="3.4"/>
<circle cx="1911.3" cy="428.0" r="10.3" fill="#fff" stroke="#00B0F0" stroke-width="3.4"/>
<circle cx="1893.7" cy="436.8" r="10.3" fill="#fff" stroke="#00B0F0" stroke-width="3.4"/>
<circle cx="1875.9" cy="444.6" r="10.3" fill="#fff" stroke="#00B0F0" stroke-width="3.4"/>
<circle cx="1857.0" cy="453.5" r="10.3" fill="#fff" stroke="#00B0F0" stroke-width="3.4"/>
<circle cx="1839.1" cy="461.3" r="10.3" fill="#fff" stroke="#00B0F0" stroke-width="3.4"/>
<circle cx="1821.3" cy="469.0" r="10.3" fill="#fff" stroke="#00B0F0" stroke-width="3.4"/>
<circle cx="1802.9" cy="478.0" r="10.3" fill="#fff" stroke="#00B0F0" stroke-width="3.4"/>
<circle cx="1784.6" cy="485.7" r="10.3" fill="#fff" stroke="#00B0F0" stroke-width="3.4"/>
<circle cx="1766.8" cy="494.7" r="10.3" fill="#fff" stroke="#00B0F0" stroke-width="3.4"/>
<circle cx="1749.3" cy="504.0" r="10.3" fill="#fff" stroke="#00B0F0" stroke-width="3.4"/>
<circle cx="1730.9" cy="512.5" r="10.3" fill="#fff" stroke="#00B0F0" stroke-width="3.4"/>
<circle cx="1712.5" cy="522.3" r="10.3" fill="#fff" stroke="#00B0F0" stroke-width="3.4"/>
<circle cx="1694.7" cy="533.5" r="10.3" fill="#fff" stroke="#00B0F0" stroke-width="3.4"/>
<circle cx="1677.0" cy="546.1" r="10.3" fill="#fff" stroke="#00B0F0" stroke-width="3.4"/>
<circle cx="1659.0" cy="557.2" r="10.3" fill="#fff" stroke="#00B0F0" stroke-width="3.4"/>
<circle cx="1643.5" cy="571.3" r="10.3" fill="#fff" stroke="#00B0F0" stroke-width="3.4"/>
<circle cx="1622.2" cy="591.5" r="10.3" fill="#fff" stroke="#00B0F0" stroke-width="3.4"/>
<circle cx="1604.8" cy="613.5" r="10.3" fill="#fff" stroke="#00B0F0" stroke-width="3.4"/>
<polyline points="1568.5,856.0 1569.9,852.0 1571.4,848.1 1573.3,844.4 1575.2,840.7 1577.7,837.2 1580.1,833.8 1582.9,830.6 1585.6,827.5 1588.5,824.5 1591.5,821.5 1594.6,818.6 1597.8,815.9 1601.0,813.2 1604.2,810.5 1612.0,803.5 1628.0,795.5 1646.0,788.5 1664.0,782.5 1682.0,777.0 1700.0,771.5 1718.0,766.5 1737.0,760.5 1753.0,754.3 1772.0,748.3 1789.6,742.7 1808.2,737.6 1825.8,731.6 1843.5,725.0 1862.0,719.5 1879.4,712.5 1899.5,705.8 1913.0,708.0 1931.4,701.7 1949.5,693.8 1967.6,685.5 1984.6,674.8 2003.5,665.9 2021.3,655.9 2039.1,645.9 2055.8,637.0 2074.7,625.8 2092.5,613.6 2110.3,601.3 2128.2,589.1 2146.0,575.0 2163.7,560.0 2181.0,544.0 2199.9,530.2 2217.3,519.2 2234.6,506.6 2253.5,494.0 2270.9,482.9 2288.2,471.9 2307.2,460.9 2326.1,449.8 2343.4,438.8 2362.4,427.7 2379.7,418.3 2395.5,405.7 2407.0,395.0 2417.6,383.6 2427.0,373.0 2434.9,363.1 2442.0,350.0 2449.0,336.0" fill="none" stroke="#7030A0" stroke-width="2.8" stroke-linejoin="round"/>
<path d="M1604.2,796.7L1618.0,810.5L1604.2,824.3L1590.4,810.5Z" fill="#fff" stroke="#7030A0" stroke-width="3.5" stroke-linejoin="miter"/>
<path d="M1601.0,799.4L1614.8,813.2L1601.0,827.0L1587.2,813.2Z" fill="#fff" stroke="#7030A0" stroke-width="3.5" stroke-linejoin="miter"/>
<path d="M1597.8,802.1L1611.6,815.9L1597.8,829.7L1584.0,815.9Z" fill="#fff" stroke="#7030A0" stroke-width="3.5" stroke-linejoin="miter"/>
<path d="M1594.6,804.8L1608.4,818.6L1594.6,832.4L1580.8,818.6Z" fill="#fff" stroke="#7030A0" stroke-width="3.5" stroke-linejoin="miter"/>
<path d="M1591.5,807.7L1605.3,821.5L1591.5,835.3L1577.7,821.5Z" fill="#fff" stroke="#7030A0" stroke-width="3.5" stroke-linejoin="miter"/>
<path d="M1588.5,810.7L1602.3,824.5L1588.5,838.3L1574.7,824.5Z" fill="#fff" stroke="#7030A0" stroke-width="3.5" stroke-linejoin="miter"/>
<path d="M1585.6,813.7L1599.4,827.5L1585.6,841.3L1571.8,827.5Z" fill="#fff" stroke="#7030A0" stroke-width="3.5" stroke-linejoin="miter"/>
<path d="M1582.9,816.8L1596.7,830.6L1582.9,844.4L1569.1,830.6Z" fill="#fff" stroke="#7030A0" stroke-width="3.5" stroke-linejoin="miter"/>
<path d="M1580.1,820.0L1593.9,833.8L1580.1,847.6L1566.3,833.8Z" fill="#fff" stroke="#7030A0" stroke-width="3.5" stroke-linejoin="miter"/>
<path d="M1577.7,823.4L1591.5,837.2L1577.7,851.0L1563.9,837.2Z" fill="#fff" stroke="#7030A0" stroke-width="3.5" stroke-linejoin="miter"/>
<path d="M1575.2,826.9L1589.0,840.7L1575.2,854.5L1561.4,840.7Z" fill="#fff" stroke="#7030A0" stroke-width="3.5" stroke-linejoin="miter"/>
<path d="M1573.3,830.6L1587.1,844.4L1573.3,858.2L1559.5,844.4Z" fill="#fff" stroke="#7030A0" stroke-width="3.5" stroke-linejoin="miter"/>
<path d="M1571.4,834.3L1585.2,848.1L1571.4,861.9L1557.6,848.1Z" fill="#fff" stroke="#7030A0" stroke-width="3.5" stroke-linejoin="miter"/>
<path d="M1569.9,838.2L1583.7,852.0L1569.9,865.8L1556.1,852.0Z" fill="#fff" stroke="#7030A0" stroke-width="3.5" stroke-linejoin="miter"/>
<path d="M1568.5,842.2L1582.3,856.0L1568.5,869.8L1554.7,856.0Z" fill="#fff" stroke="#7030A0" stroke-width="3.5" stroke-linejoin="miter"/>
<path d="M1612.0,789.7L1625.8,803.5L1612.0,817.3L1598.2,803.5Z" fill="#fff" stroke="#7030A0" stroke-width="3.5" stroke-linejoin="miter"/>
<path d="M1628.0,781.7L1641.8,795.5L1628.0,809.3L1614.2,795.5Z" fill="#fff" stroke="#7030A0" stroke-width="3.5" stroke-linejoin="miter"/>
<path d="M1646.0,774.7L1659.8,788.5L1646.0,802.3L1632.2,788.5Z" fill="#fff" stroke="#7030A0" stroke-width="3.5" stroke-linejoin="miter"/>
<path d="M1664.0,768.7L1677.8,782.5L1664.0,796.3L1650.2,782.5Z" fill="#fff" stroke="#7030A0" stroke-width="3.5" stroke-linejoin="miter"/>
<path d="M1682.0,763.2L1695.8,777.0L1682.0,790.8L1668.2,777.0Z" fill="#fff" stroke="#7030A0" stroke-width="3.5" stroke-linejoin="miter"/>
<path d="M1700.0,757.7L1713.8,771.5L1700.0,785.3L1686.2,771.5Z" fill="#fff" stroke="#7030A0" stroke-width="3.5" stroke-linejoin="miter"/>
<path d="M1718.0,752.7L1731.8,766.5L1718.0,780.3L1704.2,766.5Z" fill="#fff" stroke="#7030A0" stroke-width="3.5" stroke-linejoin="miter"/>
<path d="M1737.0,746.7L1750.8,760.5L1737.0,774.3L1723.2,760.5Z" fill="#fff" stroke="#7030A0" stroke-width="3.5" stroke-linejoin="miter"/>
<path d="M1753.0,740.5L1766.8,754.3L1753.0,768.1L1739.2,754.3Z" fill="#fff" stroke="#7030A0" stroke-width="3.5" stroke-linejoin="miter"/>
<path d="M1772.0,734.5L1785.8,748.3L1772.0,762.1L1758.2,748.3Z" fill="#fff" stroke="#7030A0" stroke-width="3.5" stroke-linejoin="miter"/>
<path d="M1789.6,728.9L1803.4,742.7L1789.6,756.5L1775.8,742.7Z" fill="#fff" stroke="#7030A0" stroke-width="3.5" stroke-linejoin="miter"/>
<path d="M1808.2,723.8L1822.0,737.6L1808.2,751.4L1794.4,737.6Z" fill="#fff" stroke="#7030A0" stroke-width="3.5" stroke-linejoin="miter"/>
<path d="M1825.8,717.8L1839.6,731.6L1825.8,745.4L1812.0,731.6Z" fill="#fff" stroke="#7030A0" stroke-width="3.5" stroke-linejoin="miter"/>
<path d="M1843.5,711.2L1857.3,725.0L1843.5,738.8L1829.7,725.0Z" fill="#fff" stroke="#7030A0" stroke-width="3.5" stroke-linejoin="miter"/>
<path d="M1862.0,705.7L1875.8,719.5L1862.0,733.3L1848.2,719.5Z" fill="#fff" stroke="#7030A0" stroke-width="3.5" stroke-linejoin="miter"/>
<path d="M1879.4,698.7L1893.2,712.5L1879.4,726.3L1865.6,712.5Z" fill="#fff" stroke="#7030A0" stroke-width="3.5" stroke-linejoin="miter"/>
<path d="M1899.5,692.0L1913.3,705.8L1899.5,719.6L1885.7,705.8Z" fill="#fff" stroke="#7030A0" stroke-width="3.5" stroke-linejoin="miter"/>
<path d="M1913.0,694.2L1926.8,708.0L1913.0,721.8L1899.2,708.0Z" fill="#fff" stroke="#7030A0" stroke-width="3.5" stroke-linejoin="miter"/>
<path d="M1931.4,687.9L1945.2,701.7L1931.4,715.5L1917.6,701.7Z" fill="#fff" stroke="#7030A0" stroke-width="3.5" stroke-linejoin="miter"/>
<path d="M1949.5,680.0L1963.3,693.8L1949.5,707.6L1935.7,693.8Z" fill="#fff" stroke="#7030A0" stroke-width="3.5" stroke-linejoin="miter"/>
<path d="M1967.6,671.7L1981.4,685.5L1967.6,699.3L1953.8,685.5Z" fill="#fff" stroke="#7030A0" stroke-width="3.5" stroke-linejoin="miter"/>
<path d="M1984.6,661.0L1998.4,674.8L1984.6,688.6L1970.8,674.8Z" fill="#fff" stroke="#7030A0" stroke-width="3.5" stroke-linejoin="miter"/>
<path d="M2003.5,652.1L2017.3,665.9L2003.5,679.7L1989.7,665.9Z" fill="#fff" stroke="#7030A0" stroke-width="3.5" stroke-linejoin="miter"/>
<path d="M2021.3,642.1L2035.1,655.9L2021.3,669.7L2007.5,655.9Z" fill="#fff" stroke="#7030A0" stroke-width="3.5" stroke-linejoin="miter"/>
<path d="M2039.1,632.1L2052.9,645.9L2039.1,659.7L2025.3,645.9Z" fill="#fff" stroke="#7030A0" stroke-width="3.5" stroke-linejoin="miter"/>
<path d="M2055.8,623.2L2069.6,637.0L2055.8,650.8L2042.0,637.0Z" fill="#fff" stroke="#7030A0" stroke-width="3.5" stroke-linejoin="miter"/>
<path d="M2074.7,612.0L2088.5,625.8L2074.7,639.6L2060.9,625.8Z" fill="#fff" stroke="#7030A0" stroke-width="3.5" stroke-linejoin="miter"/>
<path d="M2092.5,599.8L2106.3,613.6L2092.5,627.4L2078.7,613.6Z" fill="#fff" stroke="#7030A0" stroke-width="3.5" stroke-linejoin="miter"/>
<path d="M2110.3,587.5L2124.1,601.3L2110.3,615.1L2096.5,601.3Z" fill="#fff" stroke="#7030A0" stroke-width="3.5" stroke-linejoin="miter"/>
<path d="M2128.2,575.3L2142.0,589.1L2128.2,602.9L2114.4,589.1Z" fill="#fff" stroke="#7030A0" stroke-width="3.5" stroke-linejoin="miter"/>
<path d="M2146.0,561.2L2159.8,575.0L2146.0,588.8L2132.2,575.0Z" fill="#fff" stroke="#7030A0" stroke-width="3.5" stroke-linejoin="miter"/>
<path d="M2163.7,546.2L2177.5,560.0L2163.7,573.8L2149.9,560.0Z" fill="#fff" stroke="#7030A0" stroke-width="3.5" stroke-linejoin="miter"/>
<path d="M2181.0,530.2L2194.8,544.0L2181.0,557.8L2167.2,544.0Z" fill="#fff" stroke="#7030A0" stroke-width="3.5" stroke-linejoin="miter"/>
<path d="M2199.9,516.4L2213.7,530.2L2199.9,544.0L2186.1,530.2Z" fill="#fff" stroke="#7030A0" stroke-width="3.5" stroke-linejoin="miter"/>
<path d="M2217.3,505.4L2231.1,519.2L2217.3,533.0L2203.5,519.2Z" fill="#fff" stroke="#7030A0" stroke-width="3.5" stroke-linejoin="miter"/>
<path d="M2234.6,492.8L2248.4,506.6L2234.6,520.4L2220.8,506.6Z" fill="#fff" stroke="#7030A0" stroke-width="3.5" stroke-linejoin="miter"/>
<path d="M2253.5,480.2L2267.3,494.0L2253.5,507.8L2239.7,494.0Z" fill="#fff" stroke="#7030A0" stroke-width="3.5" stroke-linejoin="miter"/>
<path d="M2270.9,469.1L2284.7,482.9L2270.9,496.7L2257.1,482.9Z" fill="#fff" stroke="#7030A0" stroke-width="3.5" stroke-linejoin="miter"/>
<path d="M2288.2,458.1L2302.0,471.9L2288.2,485.7L2274.4,471.9Z" fill="#fff" stroke="#7030A0" stroke-width="3.5" stroke-linejoin="miter"/>
<path d="M2307.2,447.1L2321.0,460.9L2307.2,474.7L2293.4,460.9Z" fill="#fff" stroke="#7030A0" stroke-width="3.5" stroke-linejoin="miter"/>
<path d="M2326.1,436.0L2339.9,449.8L2326.1,463.6L2312.3,449.8Z" fill="#fff" stroke="#7030A0" stroke-width="3.5" stroke-linejoin="miter"/>
<path d="M2343.4,425.0L2357.2,438.8L2343.4,452.6L2329.6,438.8Z" fill="#fff" stroke="#7030A0" stroke-width="3.5" stroke-linejoin="miter"/>
<path d="M2362.4,413.9L2376.2,427.7L2362.4,441.5L2348.6,427.7Z" fill="#fff" stroke="#7030A0" stroke-width="3.5" stroke-linejoin="miter"/>
<path d="M2379.7,404.5L2393.5,418.3L2379.7,432.1L2365.9,418.3Z" fill="#fff" stroke="#7030A0" stroke-width="3.5" stroke-linejoin="miter"/>
<path d="M2395.5,391.9L2409.3,405.7L2395.5,419.5L2381.7,405.7Z" fill="#fff" stroke="#7030A0" stroke-width="3.5" stroke-linejoin="miter"/>
<path d="M2407.0,381.2L2420.8,395.0L2407.0,408.8L2393.2,395.0Z" fill="#fff" stroke="#7030A0" stroke-width="3.5" stroke-linejoin="miter"/>
<path d="M2417.6,369.8L2431.4,383.6L2417.6,397.4L2403.8,383.6Z" fill="#fff" stroke="#7030A0" stroke-width="3.5" stroke-linejoin="miter"/>
<path d="M2427.0,359.2L2440.8,373.0L2427.0,386.8L2413.2,373.0Z" fill="#fff" stroke="#7030A0" stroke-width="3.5" stroke-linejoin="miter"/>
<path d="M2434.9,349.3L2448.7,363.1L2434.9,376.9L2421.1,363.1Z" fill="#fff" stroke="#7030A0" stroke-width="3.5" stroke-linejoin="miter"/>
<path d="M2442.0,336.2L2455.8,350.0L2442.0,363.8L2428.2,350.0Z" fill="#fff" stroke="#7030A0" stroke-width="3.5" stroke-linejoin="miter"/>
<path d="M2449.0,322.2L2462.8,336.0L2449.0,349.8L2435.2,336.0Z" fill="#fff" stroke="#7030A0" stroke-width="3.5" stroke-linejoin="miter"/>
<polyline points="2449.1,331.5 2430.2,339.4 2414.4,355.2 2398.6,367.8 2381.3,380.4 2363.9,393.0 2343.4,405.7 2326.1,416.7 2308.7,426.2 2289.8,432.5 2272.5,440.4 2255.1,448.2 2236.2,454.5 2217.3,460.9 2199.9,468.7 2181.0,475.0 2163.7,481.4 2146.0,489.5 2128.2,498.9 2110.3,511.2 2091.4,523.4 2073.6,536.8 2054.7,552.4 2035.8,567.9 2018.0,582.4 2000.1,599.1 1986.8,619.1 1963.4,663.0 1940.2,684.5 1919.4,694.7 1893.5,705.3 1873.4,712.0 1856.0,719.0 1837.5,724.5 1819.8,731.1 1802.2,737.1 1783.6,742.2 1766.0,747.8 1747.0,753.8 1731.0,760.0 1712.0,766.0 1694.0,771.0 1676.0,776.5 1658.0,782.0 1640.0,788.0 1622.0,795.0 1606.0,803.0" fill="none" stroke="#7030A0" stroke-width="2.8" stroke-linejoin="round"/>
<path d="M2449.1,317.7L2462.9,331.5L2449.1,345.3L2435.3,331.5Z" fill="#fff" stroke="#7030A0" stroke-width="3.5" stroke-linejoin="miter"/>
<path d="M2430.2,325.6L2444.0,339.4L2430.2,353.2L2416.4,339.4Z" fill="#fff" stroke="#7030A0" stroke-width="3.5" stroke-linejoin="miter"/>
<path d="M2414.4,341.4L2428.2,355.2L2414.4,369.0L2400.6,355.2Z" fill="#fff" stroke="#7030A0" stroke-width="3.5" stroke-linejoin="miter"/>
<path d="M2398.6,354.0L2412.4,367.8L2398.6,381.6L2384.8,367.8Z" fill="#fff" stroke="#7030A0" stroke-width="3.5" stroke-linejoin="miter"/>
<path d="M2381.3,366.6L2395.1,380.4L2381.3,394.2L2367.5,380.4Z" fill="#fff" stroke="#7030A0" stroke-width="3.5" stroke-linejoin="miter"/>
<path d="M2363.9,379.2L2377.7,393.0L2363.9,406.8L2350.1,393.0Z" fill="#fff" stroke="#7030A0" stroke-width="3.5" stroke-linejoin="miter"/>
<path d="M2343.4,391.9L2357.2,405.7L2343.4,419.5L2329.6,405.7Z" fill="#fff" stroke="#7030A0" stroke-width="3.5" stroke-linejoin="miter"/>
<path d="M2326.1,402.9L2339.9,416.7L2326.1,430.5L2312.3,416.7Z" fill="#fff" stroke="#7030A0" stroke-width="3.5" stroke-linejoin="miter"/>
<path d="M2308.7,412.4L2322.5,426.2L2308.7,440.0L2294.9,426.2Z" fill="#fff" stroke="#7030A0" stroke-width="3.5" stroke-linejoin="miter"/>
<path d="M2289.8,418.7L2303.6,432.5L2289.8,446.3L2276.0,432.5Z" fill="#fff" stroke="#7030A0" stroke-width="3.5" stroke-linejoin="miter"/>
<path d="M2272.5,426.6L2286.3,440.4L2272.5,454.2L2258.7,440.4Z" fill="#fff" stroke="#7030A0" stroke-width="3.5" stroke-linejoin="miter"/>
<path d="M2255.1,434.4L2268.9,448.2L2255.1,462.0L2241.3,448.2Z" fill="#fff" stroke="#7030A0" stroke-width="3.5" stroke-linejoin="miter"/>
<path d="M2236.2,440.7L2250.0,454.5L2236.2,468.3L2222.4,454.5Z" fill="#fff" stroke="#7030A0" stroke-width="3.5" stroke-linejoin="miter"/>
<path d="M2217.3,447.1L2231.1,460.9L2217.3,474.7L2203.5,460.9Z" fill="#fff" stroke="#7030A0" stroke-width="3.5" stroke-linejoin="miter"/>
<path d="M2199.9,454.9L2213.7,468.7L2199.9,482.5L2186.1,468.7Z" fill="#fff" stroke="#7030A0" stroke-width="3.5" stroke-linejoin="miter"/>
<path d="M2181.0,461.2L2194.8,475.0L2181.0,488.8L2167.2,475.0Z" fill="#fff" stroke="#7030A0" stroke-width="3.5" stroke-linejoin="miter"/>
<path d="M2163.7,467.6L2177.5,481.4L2163.7,495.2L2149.9,481.4Z" fill="#fff" stroke="#7030A0" stroke-width="3.5" stroke-linejoin="miter"/>
<path d="M2146.0,475.7L2159.8,489.5L2146.0,503.3L2132.2,489.5Z" fill="#fff" stroke="#7030A0" stroke-width="3.5" stroke-linejoin="miter"/>
<path d="M2128.2,485.1L2142.0,498.9L2128.2,512.7L2114.4,498.9Z" fill="#fff" stroke="#7030A0" stroke-width="3.5" stroke-linejoin="miter"/>
<path d="M2110.3,497.4L2124.1,511.2L2110.3,525.0L2096.5,511.2Z" fill="#fff" stroke="#7030A0" stroke-width="3.5" stroke-linejoin="miter"/>
<path d="M2091.4,509.6L2105.2,523.4L2091.4,537.2L2077.6,523.4Z" fill="#fff" stroke="#7030A0" stroke-width="3.5" stroke-linejoin="miter"/>
<path d="M2073.6,523.0L2087.4,536.8L2073.6,550.6L2059.8,536.8Z" fill="#fff" stroke="#7030A0" stroke-width="3.5" stroke-linejoin="miter"/>
<path d="M2054.7,538.6L2068.5,552.4L2054.7,566.2L2040.9,552.4Z" fill="#fff" stroke="#7030A0" stroke-width="3.5" stroke-linejoin="miter"/>
<path d="M2035.8,554.1L2049.6,567.9L2035.8,581.7L2022.0,567.9Z" fill="#fff" stroke="#7030A0" stroke-width="3.5" stroke-linejoin="miter"/>
<path d="M2018.0,568.6L2031.8,582.4L2018.0,596.2L2004.2,582.4Z" fill="#fff" stroke="#7030A0" stroke-width="3.5" stroke-linejoin="miter"/>
<path d="M2000.1,585.3L2013.9,599.1L2000.1,612.9L1986.3,599.1Z" fill="#fff" stroke="#7030A0" stroke-width="3.5" stroke-linejoin="miter"/>
<path d="M1986.8,605.3L2000.6,619.1L1986.8,632.9L1973.0,619.1Z" fill="#fff" stroke="#7030A0" stroke-width="3.5" stroke-linejoin="miter"/>
<path d="M1963.4,649.2L1977.2,663.0L1963.4,676.8L1949.6,663.0Z" fill="#fff" stroke="#7030A0" stroke-width="3.5" stroke-linejoin="miter"/>
<path d="M1940.2,670.7L1954.0,684.5L1940.2,698.3L1926.4,684.5Z" fill="#fff" stroke="#7030A0" stroke-width="3.5" stroke-linejoin="miter"/>
<path d="M1919.4,680.9L1933.2,694.7L1919.4,708.5L1905.6,694.7Z" fill="#fff" stroke="#7030A0" stroke-width="3.5" stroke-linejoin="miter"/>
<path d="M1893.5,691.5L1907.3,705.3L1893.5,719.1L1879.7,705.3Z" fill="#fff" stroke="#7030A0" stroke-width="3.5" stroke-linejoin="miter"/>
<path d="M1873.4,698.2L1887.2,712.0L1873.4,725.8L1859.6,712.0Z" fill="#fff" stroke="#7030A0" stroke-width="3.5" stroke-linejoin="miter"/>
<path d="M1856.0,705.2L1869.8,719.0L1856.0,732.8L1842.2,719.0Z" fill="#fff" stroke="#7030A0" stroke-width="3.5" stroke-linejoin="miter"/>
<path d="M1837.5,710.7L1851.3,724.5L1837.5,738.3L1823.7,724.5Z" fill="#fff" stroke="#7030A0" stroke-width="3.5" stroke-linejoin="miter"/>
<path d="M1819.8,717.3L1833.6,731.1L1819.8,744.9L1806.0,731.1Z" fill="#fff" stroke="#7030A0" stroke-width="3.5" stroke-linejoin="miter"/>
<path d="M1802.2,723.3L1816.0,737.1L1802.2,750.9L1788.4,737.1Z" fill="#fff" stroke="#7030A0" stroke-width="3.5" stroke-linejoin="miter"/>
<path d="M1783.6,728.4L1797.4,742.2L1783.6,756.0L1769.8,742.2Z" fill="#fff" stroke="#7030A0" stroke-width="3.5" stroke-linejoin="miter"/>
<path d="M1766.0,734.0L1779.8,747.8L1766.0,761.6L1752.2,747.8Z" fill="#fff" stroke="#7030A0" stroke-width="3.5" stroke-linejoin="miter"/>
<path d="M1747.0,740.0L1760.8,753.8L1747.0,767.6L1733.2,753.8Z" fill="#fff" stroke="#7030A0" stroke-width="3.5" stroke-linejoin="miter"/>
<path d="M1731.0,746.2L1744.8,760.0L1731.0,773.8L1717.2,760.0Z" fill="#fff" stroke="#7030A0" stroke-width="3.5" stroke-linejoin="miter"/>
<path d="M1712.0,752.2L1725.8,766.0L1712.0,779.8L1698.2,766.0Z" fill="#fff" stroke="#7030A0" stroke-width="3.5" stroke-linejoin="miter"/>
<path d="M1694.0,757.2L1707.8,771.0L1694.0,784.8L1680.2,771.0Z" fill="#fff" stroke="#7030A0" stroke-width="3.5" stroke-linejoin="miter"/>
<path d="M1676.0,762.7L1689.8,776.5L1676.0,790.3L1662.2,776.5Z" fill="#fff" stroke="#7030A0" stroke-width="3.5" stroke-linejoin="miter"/>
<path d="M1658.0,768.2L1671.8,782.0L1658.0,795.8L1644.2,782.0Z" fill="#fff" stroke="#7030A0" stroke-width="3.5" stroke-linejoin="miter"/>
<path d="M1640.0,774.2L1653.8,788.0L1640.0,801.8L1626.2,788.0Z" fill="#fff" stroke="#7030A0" stroke-width="3.5" stroke-linejoin="miter"/>
<path d="M1622.0,781.2L1635.8,795.0L1622.0,808.8L1608.2,795.0Z" fill="#fff" stroke="#7030A0" stroke-width="3.5" stroke-linejoin="miter"/>
<path d="M1606.0,789.2L1619.8,803.0L1606.0,816.8L1592.2,803.0Z" fill="#fff" stroke="#7030A0" stroke-width="3.5" stroke-linejoin="miter"/>
<polyline points="1570.0,751.0 1570.4,746.8 1570.8,742.6 1571.3,738.5 1571.9,734.3 1572.6,730.2 1573.5,726.1 1574.5,722.0 1575.5,717.9 1576.5,713.8 1577.6,709.8 1578.6,705.7 1579.7,701.7 1580.9,697.6 1582.2,693.6 1583.7,689.7 1585.3,685.8 1587.2,682.1 1589.4,678.5 1591.6,674.9 1593.7,671.3 1595.9,667.7 1598.0,664.1 1607.7,653.5 1627.2,629.5 1645.4,611.4 1666.4,593.5 1683.4,581.7 1699.8,568.3 1718.0,554.6 1735.9,542.3 1753.9,531.1 1772.4,519.8 1791.2,507.6 1809.0,498.7 1828.0,487.6 1845.8,476.5 1864.7,467.5 1882.5,458.6 1899.2,450.9 1920.0,439.8 1944.0,431.0 1967.9,426.5 1986.8,420.3 2004.6,413.6 2022.4,406.9 2040.2,399.1 2058.0,391.4 2075.8,383.6 2094.8,376.9 2112.6,369.1 2130.4,362.4 2148.2,354.6 2165.6,345.9 2183.4,339.2 2201.2,332.6 2219.0,325.9 2238.0,320.3 2254.7,312.5 2273.6,305.8 2291.4,298.0 2309.2,290.3 2325.9,283.6 2344.8,274.7 2362.3,265.7 2381.0,254.9 2397.7,242.4 2407.7,233.2 2418.5,225.7 2425.6,217.3 2435.2,206.5 2442.8,195.6" fill="none" stroke="#00B050" stroke-width="2.8" stroke-linejoin="round"/>
<rect x="1587.0" y="653.1" width="22" height="22" fill="#fff" stroke="#00B050" stroke-width="3.8"/>
<rect x="1584.9" y="656.7" width="22" height="22" fill="#fff" stroke="#00B050" stroke-width="3.8"/>
<rect x="1582.7" y="660.3" width="22" height="22" fill="#fff" stroke="#00B050" stroke-width="3.8"/>
<rect x="1580.6" y="663.9" width="22" height="22" fill="#fff" stroke="#00B050" stroke-width="3.8"/>
<rect x="1578.4" y="667.5" width="22" height="22" fill="#fff" stroke="#00B050" stroke-width="3.8"/>
<rect x="1576.2" y="671.1" width="22" height="22" fill="#fff" stroke="#00B050" stroke-width="3.8"/>
<rect x="1574.3" y="674.8" width="22" height="22" fill="#fff" stroke="#00B050" stroke-width="3.8"/>
<rect x="1572.7" y="678.7" width="22" height="22" fill="#fff" stroke="#00B050" stroke-width="3.8"/>
<rect x="1571.2" y="682.6" width="22" height="22" fill="#fff" stroke="#00B050" stroke-width="3.8"/>
<rect x="1569.9" y="686.6" width="22" height="22" fill="#fff" stroke="#00B050" stroke-width="3.8"/>
<rect x="1568.7" y="690.7" width="22" height="22" fill="#fff" stroke="#00B050" stroke-width="3.8"/>
<rect x="1567.6" y="694.7" width="22" height="22" fill="#fff" stroke="#00B050" stroke-width="3.8"/>
<rect x="1566.6" y="698.8" width="22" height="22" fill="#fff" stroke="#00B050" stroke-width="3.8"/>
<rect x="1565.5" y="702.8" width="22" height="22" fill="#fff" stroke="#00B050" stroke-width="3.8"/>
<rect x="1564.5" y="706.9" width="22" height="22" fill="#fff" stroke="#00B050" stroke-width="3.8"/>
<rect x="1563.5" y="711.0" width="22" height="22" fill="#fff" stroke="#00B050" stroke-width="3.8"/>
<rect x="1562.5" y="715.1" width="22" height="22" fill="#fff" stroke="#00B050" stroke-width="3.8"/>
<rect x="1561.6" y="719.2" width="22" height="22" fill="#fff" stroke="#00B050" stroke-width="3.8"/>
<rect x="1560.9" y="723.3" width="22" height="22" fill="#fff" stroke="#00B050" stroke-width="3.8"/>
<rect x="1560.3" y="727.5" width="22" height="22" fill="#fff" stroke="#00B050" stroke-width="3.8"/>
<rect x="1559.8" y="731.6" width="22" height="22" fill="#fff" stroke="#00B050" stroke-width="3.8"/>
<rect x="1559.4" y="735.8" width="22" height="22" fill="#fff" stroke="#00B050" stroke-width="3.8"/>
<rect x="1559.0" y="740.0" width="22" height="22" fill="#fff" stroke="#00B050" stroke-width="3.8"/>
<rect x="1596.7" y="642.5" width="22" height="22" fill="#fff" stroke="#00B050" stroke-width="3.8"/>
<rect x="1616.2" y="618.5" width="22" height="22" fill="#fff" stroke="#00B050" stroke-width="3.8"/>
<rect x="1634.4" y="600.4" width="22" height="22" fill="#fff" stroke="#00B050" stroke-width="3.8"/>
<rect x="1655.4" y="582.5" width="22" height="22" fill="#fff" stroke="#00B050" stroke-width="3.8"/>
<rect x="1672.4" y="570.7" width="22" height="22" fill="#fff" stroke="#00B050" stroke-width="3.8"/>
<rect x="1688.8" y="557.3" width="22" height="22" fill="#fff" stroke="#00B050" stroke-width="3.8"/>
<rect x="1707.0" y="543.6" width="22" height="22" fill="#fff" stroke="#00B050" stroke-width="3.8"/>
<rect x="1724.9" y="531.3" width="22" height="22" fill="#fff" stroke="#00B050" stroke-width="3.8"/>
<rect x="1742.9" y="520.1" width="22" height="22" fill="#fff" stroke="#00B050" stroke-width="3.8"/>
<rect x="1761.4" y="508.8" width="22" height="22" fill="#fff" stroke="#00B050" stroke-width="3.8"/>
<rect x="1780.2" y="496.6" width="22" height="22" fill="#fff" stroke="#00B050" stroke-width="3.8"/>
<rect x="1798.0" y="487.7" width="22" height="22" fill="#fff" stroke="#00B050" stroke-width="3.8"/>
<rect x="1817.0" y="476.6" width="22" height="22" fill="#fff" stroke="#00B050" stroke-width="3.8"/>
<rect x="1834.8" y="465.5" width="22" height="22" fill="#fff" stroke="#00B050" stroke-width="3.8"/>
<rect x="1853.7" y="456.5" width="22" height="22" fill="#fff" stroke="#00B050" stroke-width="3.8"/>
<rect x="1871.5" y="447.6" width="22" height="22" fill="#fff" stroke="#00B050" stroke-width="3.8"/>
<rect x="1888.2" y="439.9" width="22" height="22" fill="#fff" stroke="#00B050" stroke-width="3.8"/>
<rect x="1909.0" y="428.8" width="22" height="22" fill="#fff" stroke="#00B050" stroke-width="3.8"/>
<rect x="1933.0" y="420.0" width="22" height="22" fill="#fff" stroke="#00B050" stroke-width="3.8"/>
<rect x="1956.9" y="415.5" width="22" height="22" fill="#fff" stroke="#00B050" stroke-width="3.8"/>
<rect x="1975.8" y="409.3" width="22" height="22" fill="#fff" stroke="#00B050" stroke-width="3.8"/>
<rect x="1993.6" y="402.6" width="22" height="22" fill="#fff" stroke="#00B050" stroke-width="3.8"/>
<rect x="2011.4" y="395.9" width="22" height="22" fill="#fff" stroke="#00B050" stroke-width="3.8"/>
<rect x="2029.2" y="388.1" width="22" height="22" fill="#fff" stroke="#00B050" stroke-width="3.8"/>
<rect x="2047.0" y="380.4" width="22" height="22" fill="#fff" stroke="#00B050" stroke-width="3.8"/>
<rect x="2064.8" y="372.6" width="22" height="22" fill="#fff" stroke="#00B050" stroke-width="3.8"/>
<rect x="2083.8" y="365.9" width="22" height="22" fill="#fff" stroke="#00B050" stroke-width="3.8"/>
<rect x="2101.6" y="358.1" width="22" height="22" fill="#fff" stroke="#00B050" stroke-width="3.8"/>
<rect x="2119.4" y="351.4" width="22" height="22" fill="#fff" stroke="#00B050" stroke-width="3.8"/>
<rect x="2137.2" y="343.6" width="22" height="22" fill="#fff" stroke="#00B050" stroke-width="3.8"/>
<rect x="2154.6" y="334.9" width="22" height="22" fill="#fff" stroke="#00B050" stroke-width="3.8"/>
<rect x="2172.4" y="328.2" width="22" height="22" fill="#fff" stroke="#00B050" stroke-width="3.8"/>
<rect x="2190.2" y="321.6" width="22" height="22" fill="#fff" stroke="#00B050" stroke-width="3.8"/>
<rect x="2208.0" y="314.9" width="22" height="22" fill="#fff" stroke="#00B050" stroke-width="3.8"/>
<rect x="2227.0" y="309.3" width="22" height="22" fill="#fff" stroke="#00B050" stroke-width="3.8"/>
<rect x="2243.7" y="301.5" width="22" height="22" fill="#fff" stroke="#00B050" stroke-width="3.8"/>
<rect x="2262.6" y="294.8" width="22" height="22" fill="#fff" stroke="#00B050" stroke-width="3.8"/>
<rect x="2280.4" y="287.0" width="22" height="22" fill="#fff" stroke="#00B050" stroke-width="3.8"/>
<rect x="2298.2" y="279.3" width="22" height="22" fill="#fff" stroke="#00B050" stroke-width="3.8"/>
<rect x="2314.9" y="272.6" width="22" height="22" fill="#fff" stroke="#00B050" stroke-width="3.8"/>
<rect x="2333.8" y="263.7" width="22" height="22" fill="#fff" stroke="#00B050" stroke-width="3.8"/>
<rect x="2351.3" y="254.7" width="22" height="22" fill="#fff" stroke="#00B050" stroke-width="3.8"/>
<rect x="2370.0" y="243.9" width="22" height="22" fill="#fff" stroke="#00B050" stroke-width="3.8"/>
<rect x="2386.7" y="231.4" width="22" height="22" fill="#fff" stroke="#00B050" stroke-width="3.8"/>
<rect x="2396.7" y="222.2" width="22" height="22" fill="#fff" stroke="#00B050" stroke-width="3.8"/>
<rect x="2407.5" y="214.7" width="22" height="22" fill="#fff" stroke="#00B050" stroke-width="3.8"/>
<rect x="2414.6" y="206.3" width="22" height="22" fill="#fff" stroke="#00B050" stroke-width="3.8"/>
<rect x="2424.2" y="195.5" width="22" height="22" fill="#fff" stroke="#00B050" stroke-width="3.8"/>
<rect x="2431.8" y="184.6" width="22" height="22" fill="#fff" stroke="#00B050" stroke-width="3.8"/>
<polyline points="2452.0,181.2 2430.6,183.7 2417.2,192.0 2394.3,208.0 2381.3,218.0 2363.4,230.0 2346.8,239.7 2327.5,251.0 2311.7,260.2 2293.6,265.8 2275.8,274.7 2256.9,282.5 2238.0,289.1 2220.1,294.7 2202.3,301.4 2184.5,308.1 2164.5,314.7 2148.0,320.0 2131.5,329.0 2112.6,334.6 2094.8,340.1 2075.8,345.7 2058.0,350.2 2039.1,354.6 2021.3,360.2 2004.2,364.6 1989.0,374.7 1968.0,403.5 1942.3,426.9 1915.6,441.3 1894.8,452.4 1878.1,460.1 1860.3,469.0 1841.4,478.0 1823.6,489.1 1804.6,500.2 1786.8,509.1 1768.0,521.3 1749.5,532.6 1731.5,543.8 1713.6,556.1 1695.4,569.8 1679.0,583.2 1662.0,595.0 1641.0,612.9 1622.8,631.0 1603.3,655.0" fill="none" stroke="#00B050" stroke-width="2.8" stroke-linejoin="round"/>
<rect x="2441.0" y="170.2" width="22" height="22" fill="#fff" stroke="#00B050" stroke-width="3.8"/>
<rect x="2419.6" y="172.7" width="22" height="22" fill="#fff" stroke="#00B050" stroke-width="3.8"/>
<rect x="2406.2" y="181.0" width="22" height="22" fill="#fff" stroke="#00B050" stroke-width="3.8"/>
<rect x="2383.3" y="197.0" width="22" height="22" fill="#fff" stroke="#00B050" stroke-width="3.8"/>
<rect x="2370.3" y="207.0" width="22" height="22" fill="#fff" stroke="#00B050" stroke-width="3.8"/>
<rect x="2352.4" y="219.0" width="22" height="22" fill="#fff" stroke="#00B050" stroke-width="3.8"/>
<rect x="2335.8" y="228.7" width="22" height="22" fill="#fff" stroke="#00B050" stroke-width="3.8"/>
<rect x="2316.5" y="240.0" width="22" height="22" fill="#fff" stroke="#00B050" stroke-width="3.8"/>
<rect x="2300.7" y="249.2" width="22" height="22" fill="#fff" stroke="#00B050" stroke-width="3.8"/>
<rect x="2282.6" y="254.8" width="22" height="22" fill="#fff" stroke="#00B050" stroke-width="3.8"/>
<rect x="2264.8" y="263.7" width="22" height="22" fill="#fff" stroke="#00B050" stroke-width="3.8"/>
<rect x="2245.9" y="271.5" width="22" height="22" fill="#fff" stroke="#00B050" stroke-width="3.8"/>
<rect x="2227.0" y="278.1" width="22" height="22" fill="#fff" stroke="#00B050" stroke-width="3.8"/>
<rect x="2209.1" y="283.7" width="22" height="22" fill="#fff" stroke="#00B050" stroke-width="3.8"/>
<rect x="2191.3" y="290.4" width="22" height="22" fill="#fff" stroke="#00B050" stroke-width="3.8"/>
<rect x="2173.5" y="297.1" width="22" height="22" fill="#fff" stroke="#00B050" stroke-width="3.8"/>
<rect x="2153.5" y="303.7" width="22" height="22" fill="#fff" stroke="#00B050" stroke-width="3.8"/>
<rect x="2137.0" y="309.0" width="22" height="22" fill="#fff" stroke="#00B050" stroke-width="3.8"/>
<rect x="2120.5" y="318.0" width="22" height="22" fill="#fff" stroke="#00B050" stroke-width="3.8"/>
<rect x="2101.6" y="323.6" width="22" height="22" fill="#fff" stroke="#00B050" stroke-width="3.8"/>
<rect x="2083.8" y="329.1" width="22" height="22" fill="#fff" stroke="#00B050" stroke-width="3.8"/>
<rect x="2064.8" y="334.7" width="22" height="22" fill="#fff" stroke="#00B050" stroke-width="3.8"/>
<rect x="2047.0" y="339.2" width="22" height="22" fill="#fff" stroke="#00B050" stroke-width="3.8"/>
<rect x="2028.1" y="343.6" width="22" height="22" fill="#fff" stroke="#00B050" stroke-width="3.8"/>
<rect x="2010.3" y="349.2" width="22" height="22" fill="#fff" stroke="#00B050" stroke-width="3.8"/>
<rect x="1993.2" y="353.6" width="22" height="22" fill="#fff" stroke="#00B050" stroke-width="3.8"/>
<rect x="1978.0" y="363.7" width="22" height="22" fill="#fff" stroke="#00B050" stroke-width="3.8"/>
<rect x="1957.0" y="392.5" width="22" height="22" fill="#fff" stroke="#00B050" stroke-width="3.8"/>
<rect x="1931.3" y="415.9" width="22" height="22" fill="#fff" stroke="#00B050" stroke-width="3.8"/>
<rect x="1904.6" y="430.3" width="22" height="22" fill="#fff" stroke="#00B050" stroke-width="3.8"/>
<rect x="1883.8" y="441.4" width="22" height="22" fill="#fff" stroke="#00B050" stroke-width="3.8"/>
<rect x="1867.1" y="449.1" width="22" height="22" fill="#fff" stroke="#00B050" stroke-width="3.8"/>
<rect x="1849.3" y="458.0" width="22" height="22" fill="#fff" stroke="#00B050" stroke-width="3.8"/>
<rect x="1830.4" y="467.0" width="22" height="22" fill="#fff" stroke="#00B050" stroke-width="3.8"/>
<rect x="1812.6" y="478.1" width="22" height="22" fill="#fff" stroke="#00B050" stroke-width="3.8"/>
<rect x="1793.6" y="489.2" width="22" height="22" fill="#fff" stroke="#00B050" stroke-width="3.8"/>
<rect x="1775.8" y="498.1" width="22" height="22" fill="#fff" stroke="#00B050" stroke-width="3.8"/>
<rect x="1757.0" y="510.3" width="22" height="22" fill="#fff" stroke="#00B050" stroke-width="3.8"/>
<rect x="1738.5" y="521.6" width="22" height="22" fill="#fff" stroke="#00B050" stroke-width="3.8"/>
<rect x="1720.5" y="532.8" width="22" height="22" fill="#fff" stroke="#00B050" stroke-width="3.8"/>
<rect x="1702.6" y="545.1" width="22" height="22" fill="#fff" stroke="#00B050" stroke-width="3.8"/>
<rect x="1684.4" y="558.8" width="22" height="22" fill="#fff" stroke="#00B050" stroke-width="3.8"/>
<rect x="1668.0" y="572.2" width="22" height="22" fill="#fff" stroke="#00B050" stroke-width="3.8"/>
<rect x="1651.0" y="584.0" width="22" height="22" fill="#fff" stroke="#00B050" stroke-width="3.8"/>
<rect x="1630.0" y="601.9" width="22" height="22" fill="#fff" stroke="#00B050" stroke-width="3.8"/>
<rect x="1611.8" y="620.0" width="22" height="22" fill="#fff" stroke="#00B050" stroke-width="3.8"/>
<rect x="1592.3" y="644.0" width="22" height="22" fill="#fff" stroke="#00B050" stroke-width="3.8"/>
<polyline points="1571.0,890.0 1571.0,886.3 1571.5,880.8 1572.0,875.0 1572.5,871.0 1573.5,868.0 1575.5,866.0 1579.0,864.5 1583.0,863.5 1587.0,863.0 1592.0,862.0 1599.0,860.5 1611.0,860.4 1625.0,856.6 1644.5,852.5 1663.0,849.0 1680.6,846.2 1698.2,843.4 1716.8,839.7 1734.4,837.9 1753.0,835.1 1771.0,832.0 1790.0,829.5 1808.0,826.0 1826.0,823.0 1844.0,820.5 1862.0,817.5 1880.0,815.0 1898.0,811.5 1916.0,808.2 1935.0,806.0 1953.0,804.0 1970.0,802.0 1985.0,801.0 2002.6,799.0 2020.8,792.6 2039.0,786.7 2056.5,782.2 2074.7,778.3 2092.7,773.7 2110.9,768.6 2129.1,762.1 2146.0,753.0 2164.2,747.8 2181.0,736.1 2198.6,724.4 2217.1,711.4 2233.8,697.5 2251.4,676.2 2270.9,653.9 2287.6,633.5 2307.2,605.2 2324.5,583.1 2343.4,562.6 2360.8,546.8 2376.5,531.1 2393.9,513.7 2404.9,496.4 2414.0,487.0 2423.9,477.4 2433.3,461.7 2441.0,450.0 2449.0,440.0" fill="none" stroke="#FF0000" stroke-width="2.8" stroke-linejoin="round"/>
<path d="M1571.0,876.5L1584.2,903.5L1557.8,903.5Z" fill="#FF0000"/><path d="M1571.0,884.2L1562.9,900.7L1579.1,900.7Z" fill="#fff"/>
<path d="M1571.0,872.8L1584.2,899.8L1557.8,899.8Z" fill="#FF0000"/><path d="M1571.0,880.5L1562.9,897.0L1579.1,897.0Z" fill="#fff"/>
<path d="M1571.5,867.3L1584.7,894.2L1558.3,894.2Z" fill="#FF0000"/><path d="M1571.5,875.0L1563.4,891.5L1579.6,891.5Z" fill="#fff"/>
<path d="M1572.0,861.5L1585.2,888.5L1558.8,888.5Z" fill="#FF0000"/><path d="M1572.0,869.2L1563.9,885.7L1580.1,885.7Z" fill="#fff"/>
<path d="M1572.5,857.5L1585.7,884.5L1559.3,884.5Z" fill="#FF0000"/><path d="M1572.5,865.2L1564.4,881.7L1580.6,881.7Z" fill="#fff"/>
<path d="M1573.5,854.5L1586.7,881.5L1560.3,881.5Z" fill="#FF0000"/><path d="M1573.5,862.2L1565.4,878.7L1581.6,878.7Z" fill="#fff"/>
<path d="M1575.5,852.5L1588.7,879.5L1562.3,879.5Z" fill="#FF0000"/><path d="M1575.5,860.2L1567.4,876.7L1583.6,876.7Z" fill="#fff"/>
<path d="M1579.0,851.0L1592.2,878.0L1565.8,878.0Z" fill="#FF0000"/><path d="M1579.0,858.8L1570.9,875.2L1587.1,875.2Z" fill="#fff"/>
<path d="M1583.0,850.0L1596.2,877.0L1569.8,877.0Z" fill="#FF0000"/><path d="M1583.0,857.8L1574.9,874.2L1591.1,874.2Z" fill="#fff"/>
<path d="M1587.0,849.5L1600.2,876.5L1573.8,876.5Z" fill="#FF0000"/><path d="M1587.0,857.2L1578.9,873.7L1595.1,873.7Z" fill="#fff"/>
<path d="M1592.0,848.5L1605.2,875.5L1578.8,875.5Z" fill="#FF0000"/><path d="M1592.0,856.2L1583.9,872.7L1600.1,872.7Z" fill="#fff"/>
<path d="M1599.0,847.0L1612.2,874.0L1585.8,874.0Z" fill="#FF0000"/><path d="M1599.0,854.8L1590.9,871.2L1607.1,871.2Z" fill="#fff"/>
<path d="M1611.0,846.9L1624.2,873.9L1597.8,873.9Z" fill="#FF0000"/><path d="M1611.0,854.6L1602.9,871.1L1619.1,871.1Z" fill="#fff"/>
<path d="M1625.0,843.1L1638.2,870.1L1611.8,870.1Z" fill="#FF0000"/><path d="M1625.0,850.9L1616.9,867.3L1633.1,867.3Z" fill="#fff"/>
<path d="M1644.5,839.0L1657.7,866.0L1631.3,866.0Z" fill="#FF0000"/><path d="M1644.5,846.8L1636.4,863.2L1652.6,863.2Z" fill="#fff"/>
<path d="M1663.0,835.5L1676.2,862.5L1649.8,862.5Z" fill="#FF0000"/><path d="M1663.0,843.2L1654.9,859.7L1671.1,859.7Z" fill="#fff"/>
<path d="M1680.6,832.8L1693.8,859.7L1667.4,859.7Z" fill="#FF0000"/><path d="M1680.6,840.5L1672.5,856.9L1688.7,856.9Z" fill="#fff"/>
<path d="M1698.2,829.9L1711.4,856.9L1685.0,856.9Z" fill="#FF0000"/><path d="M1698.2,837.6L1690.1,854.1L1706.3,854.1Z" fill="#fff"/>
<path d="M1716.8,826.2L1730.0,853.2L1703.6,853.2Z" fill="#FF0000"/><path d="M1716.8,834.0L1708.7,850.4L1724.9,850.4Z" fill="#fff"/>
<path d="M1734.4,824.4L1747.6,851.4L1721.2,851.4Z" fill="#FF0000"/><path d="M1734.4,832.1L1726.3,848.6L1742.5,848.6Z" fill="#fff"/>
<path d="M1753.0,821.6L1766.2,848.6L1739.8,848.6Z" fill="#FF0000"/><path d="M1753.0,829.4L1744.9,845.8L1761.1,845.8Z" fill="#fff"/>
<path d="M1771.0,818.5L1784.2,845.5L1757.8,845.5Z" fill="#FF0000"/><path d="M1771.0,826.2L1762.9,842.7L1779.1,842.7Z" fill="#fff"/>
<path d="M1790.0,816.0L1803.2,843.0L1776.8,843.0Z" fill="#FF0000"/><path d="M1790.0,823.8L1781.9,840.2L1798.1,840.2Z" fill="#fff"/>
<path d="M1808.0,812.5L1821.2,839.5L1794.8,839.5Z" fill="#FF0000"/><path d="M1808.0,820.2L1799.9,836.7L1816.1,836.7Z" fill="#fff"/>
<path d="M1826.0,809.5L1839.2,836.5L1812.8,836.5Z" fill="#FF0000"/><path d="M1826.0,817.2L1817.9,833.7L1834.1,833.7Z" fill="#fff"/>
<path d="M1844.0,807.0L1857.2,834.0L1830.8,834.0Z" fill="#FF0000"/><path d="M1844.0,814.8L1835.9,831.2L1852.1,831.2Z" fill="#fff"/>
<path d="M1862.0,804.0L1875.2,831.0L1848.8,831.0Z" fill="#FF0000"/><path d="M1862.0,811.8L1853.9,828.2L1870.1,828.2Z" fill="#fff"/>
<path d="M1880.0,801.5L1893.2,828.5L1866.8,828.5Z" fill="#FF0000"/><path d="M1880.0,809.2L1871.9,825.7L1888.1,825.7Z" fill="#fff"/>
<path d="M1898.0,798.0L1911.2,825.0L1884.8,825.0Z" fill="#FF0000"/><path d="M1898.0,805.8L1889.9,822.2L1906.1,822.2Z" fill="#fff"/>
<path d="M1916.0,794.8L1929.2,821.7L1902.8,821.7Z" fill="#FF0000"/><path d="M1916.0,802.5L1907.9,818.9L1924.1,818.9Z" fill="#fff"/>
<path d="M1935.0,792.5L1948.2,819.5L1921.8,819.5Z" fill="#FF0000"/><path d="M1935.0,800.2L1926.9,816.7L1943.1,816.7Z" fill="#fff"/>
<path d="M1953.0,790.5L1966.2,817.5L1939.8,817.5Z" fill="#FF0000"/><path d="M1953.0,798.2L1944.9,814.7L1961.1,814.7Z" fill="#fff"/>
<path d="M1970.0,788.5L1983.2,815.5L1956.8,815.5Z" fill="#FF0000"/><path d="M1970.0,796.2L1961.9,812.7L1978.1,812.7Z" fill="#fff"/>
<path d="M1985.0,787.5L1998.2,814.5L1971.8,814.5Z" fill="#FF0000"/><path d="M1985.0,795.2L1976.9,811.7L1993.1,811.7Z" fill="#fff"/>
<path d="M2002.6,785.5L2015.8,812.5L1989.4,812.5Z" fill="#FF0000"/><path d="M2002.6,793.2L1994.5,809.7L2010.7,809.7Z" fill="#fff"/>
<path d="M2020.8,779.1L2034.0,806.1L2007.6,806.1Z" fill="#FF0000"/><path d="M2020.8,786.9L2012.7,803.3L2028.9,803.3Z" fill="#fff"/>
<path d="M2039.0,773.2L2052.2,800.2L2025.8,800.2Z" fill="#FF0000"/><path d="M2039.0,781.0L2030.9,797.4L2047.1,797.4Z" fill="#fff"/>
<path d="M2056.5,768.8L2069.7,795.7L2043.3,795.7Z" fill="#FF0000"/><path d="M2056.5,776.5L2048.4,792.9L2064.6,792.9Z" fill="#fff"/>
<path d="M2074.7,764.8L2087.8,791.8L2061.5,791.8Z" fill="#FF0000"/><path d="M2074.7,772.5L2066.6,789.0L2082.8,789.0Z" fill="#fff"/>
<path d="M2092.7,760.2L2105.8,787.2L2079.5,787.2Z" fill="#FF0000"/><path d="M2092.7,768.0L2084.6,784.4L2100.8,784.4Z" fill="#fff"/>
<path d="M2110.9,755.1L2124.1,782.1L2097.8,782.1Z" fill="#FF0000"/><path d="M2110.9,762.9L2102.8,779.3L2119.0,779.3Z" fill="#fff"/>
<path d="M2129.1,748.6L2142.2,775.6L2115.9,775.6Z" fill="#FF0000"/><path d="M2129.1,756.4L2121.0,772.8L2137.2,772.8Z" fill="#fff"/>
<path d="M2146.0,739.5L2159.2,766.5L2132.8,766.5Z" fill="#FF0000"/><path d="M2146.0,747.2L2137.9,763.7L2154.1,763.7Z" fill="#fff"/>
<path d="M2164.2,734.3L2177.3,761.2L2151.0,761.2Z" fill="#FF0000"/><path d="M2164.2,742.0L2156.1,758.5L2172.3,758.5Z" fill="#fff"/>
<path d="M2181.0,722.6L2194.2,749.6L2167.8,749.6Z" fill="#FF0000"/><path d="M2181.0,730.4L2172.9,746.8L2189.1,746.8Z" fill="#fff"/>
<path d="M2198.6,710.9L2211.8,737.9L2185.4,737.9Z" fill="#FF0000"/><path d="M2198.6,718.6L2190.5,735.1L2206.7,735.1Z" fill="#fff"/>
<path d="M2217.1,697.9L2230.2,724.9L2203.9,724.9Z" fill="#FF0000"/><path d="M2217.1,705.6L2209.0,722.1L2225.2,722.1Z" fill="#fff"/>
<path d="M2233.8,684.0L2247.0,711.0L2220.7,711.0Z" fill="#FF0000"/><path d="M2233.8,691.8L2225.7,708.2L2241.9,708.2Z" fill="#fff"/>
<path d="M2251.4,662.8L2264.6,689.7L2238.2,689.7Z" fill="#FF0000"/><path d="M2251.4,670.5L2243.3,686.9L2259.5,686.9Z" fill="#fff"/>
<path d="M2270.9,640.4L2284.1,667.4L2257.8,667.4Z" fill="#FF0000"/><path d="M2270.9,648.1L2262.8,664.6L2279.0,664.6Z" fill="#fff"/>
<path d="M2287.6,620.0L2300.8,647.0L2274.4,647.0Z" fill="#FF0000"/><path d="M2287.6,627.8L2279.5,644.2L2295.7,644.2Z" fill="#fff"/>
<path d="M2307.2,591.8L2320.3,618.7L2294.0,618.7Z" fill="#FF0000"/><path d="M2307.2,599.5L2299.1,615.9L2315.3,615.9Z" fill="#fff"/>
<path d="M2324.5,569.6L2337.7,596.6L2311.3,596.6Z" fill="#FF0000"/><path d="M2324.5,577.4L2316.4,593.8L2332.6,593.8Z" fill="#fff"/>
<path d="M2343.4,549.1L2356.6,576.1L2330.2,576.1Z" fill="#FF0000"/><path d="M2343.4,556.9L2335.3,573.3L2351.5,573.3Z" fill="#fff"/>
<path d="M2360.8,533.3L2374.0,560.2L2347.7,560.2Z" fill="#FF0000"/><path d="M2360.8,541.0L2352.7,557.5L2368.9,557.5Z" fill="#fff"/>
<path d="M2376.5,517.6L2389.7,544.6L2363.3,544.6Z" fill="#FF0000"/><path d="M2376.5,525.4L2368.4,541.8L2384.6,541.8Z" fill="#fff"/>
<path d="M2393.9,500.3L2407.1,527.2L2380.8,527.2Z" fill="#FF0000"/><path d="M2393.9,508.0L2385.8,524.4L2402.0,524.4Z" fill="#fff"/>
<path d="M2404.9,482.9L2418.1,509.8L2391.8,509.8Z" fill="#FF0000"/><path d="M2404.9,490.6L2396.8,507.1L2413.0,507.1Z" fill="#fff"/>
<path d="M2414.0,473.6L2427.2,500.4L2400.8,500.4Z" fill="#FF0000"/><path d="M2414.0,481.2L2405.9,497.7L2422.1,497.7Z" fill="#fff"/>
<path d="M2423.9,463.9L2437.1,490.8L2410.8,490.8Z" fill="#FF0000"/><path d="M2423.9,471.6L2415.8,488.1L2432.0,488.1Z" fill="#fff"/>
<path d="M2433.3,448.2L2446.5,475.1L2420.2,475.1Z" fill="#FF0000"/><path d="M2433.3,455.9L2425.2,472.4L2441.4,472.4Z" fill="#fff"/>
<path d="M2441.0,436.6L2454.2,463.4L2427.8,463.4Z" fill="#FF0000"/><path d="M2441.0,444.2L2432.9,460.7L2449.1,460.7Z" fill="#fff"/>
<path d="M2449.0,426.6L2462.2,453.4L2435.8,453.4Z" fill="#FF0000"/><path d="M2449.0,434.2L2440.9,450.7L2457.1,450.7Z" fill="#fff"/>
<polyline points="2449.1,438.0 2430.2,441.2 2416.0,449.0 2397.0,464.8 2382.9,479.0 2363.9,494.8 2343.4,510.6 2326.1,521.6 2307.2,532.7 2289.8,542.1 2272.5,551.5 2253.5,561.0 2236.2,572.0 2220.4,584.7 2203.1,605.2 2184.6,635.2 2161.6,668.5 2146.0,689.3 2127.8,704.9 2109.6,720.5 2092.7,732.2 2073.3,742.0 2055.2,751.5 2037.3,759.5 2018.8,767.5 2000.6,773.5 1987.0,784.0 1964.3,797.8 1944.8,803.0 1931.2,808.2 1911.0,810.0 1893.0,813.0 1875.0,816.5 1857.0,818.2 1838.0,821.5 1820.2,823.8 1802.4,827.1 1784.6,830.4 1765.7,832.6 1747.9,834.9 1729.0,838.2 1711.2,840.7 1692.7,844.4 1674.0,847.5 1656.5,850.0 1638.0,854.0 1620.0,857.5 1605.0,859.0" fill="none" stroke="#FF0000" stroke-width="2.8" stroke-linejoin="round"/>
<path d="M2449.1,424.6L2462.2,451.4L2435.9,451.4Z" fill="#FF0000"/><path d="M2449.1,432.2L2441.0,448.7L2457.2,448.7Z" fill="#fff"/>
<path d="M2430.2,427.8L2443.3,454.6L2417.0,454.6Z" fill="#FF0000"/><path d="M2430.2,435.4L2422.1,451.9L2438.3,451.9Z" fill="#fff"/>
<path d="M2416.0,435.6L2429.2,462.4L2402.8,462.4Z" fill="#FF0000"/><path d="M2416.0,443.2L2407.9,459.7L2424.1,459.7Z" fill="#fff"/>
<path d="M2397.0,451.4L2410.2,478.2L2383.8,478.2Z" fill="#FF0000"/><path d="M2397.0,459.1L2388.9,475.5L2405.1,475.5Z" fill="#fff"/>
<path d="M2382.9,465.6L2396.1,492.4L2369.8,492.4Z" fill="#FF0000"/><path d="M2382.9,473.2L2374.8,489.7L2391.0,489.7Z" fill="#fff"/>
<path d="M2363.9,481.4L2377.1,508.2L2350.8,508.2Z" fill="#FF0000"/><path d="M2363.9,489.1L2355.8,505.5L2372.0,505.5Z" fill="#fff"/>
<path d="M2343.4,497.2L2356.6,524.1L2330.2,524.1Z" fill="#FF0000"/><path d="M2343.4,504.9L2335.3,521.3L2351.5,521.3Z" fill="#fff"/>
<path d="M2326.1,508.2L2339.2,535.1L2312.9,535.1Z" fill="#FF0000"/><path d="M2326.1,515.9L2318.0,532.3L2334.2,532.3Z" fill="#fff"/>
<path d="M2307.2,519.2L2320.3,546.2L2294.0,546.2Z" fill="#FF0000"/><path d="M2307.2,527.0L2299.1,543.4L2315.3,543.4Z" fill="#fff"/>
<path d="M2289.8,528.6L2303.0,555.6L2276.7,555.6Z" fill="#FF0000"/><path d="M2289.8,536.4L2281.7,552.8L2297.9,552.8Z" fill="#fff"/>
<path d="M2272.5,538.0L2285.7,565.0L2259.3,565.0Z" fill="#FF0000"/><path d="M2272.5,545.8L2264.4,562.2L2280.6,562.2Z" fill="#fff"/>
<path d="M2253.5,547.5L2266.7,574.5L2240.3,574.5Z" fill="#FF0000"/><path d="M2253.5,555.2L2245.4,571.7L2261.6,571.7Z" fill="#fff"/>
<path d="M2236.2,558.5L2249.3,585.5L2223.0,585.5Z" fill="#FF0000"/><path d="M2236.2,566.2L2228.1,582.7L2244.3,582.7Z" fill="#fff"/>
<path d="M2220.4,571.2L2233.6,598.2L2207.2,598.2Z" fill="#FF0000"/><path d="M2220.4,579.0L2212.3,595.4L2228.5,595.4Z" fill="#fff"/>
<path d="M2203.1,591.8L2216.2,618.7L2189.9,618.7Z" fill="#FF0000"/><path d="M2203.1,599.5L2195.0,615.9L2211.2,615.9Z" fill="#fff"/>
<path d="M2184.6,621.8L2197.8,648.7L2171.4,648.7Z" fill="#FF0000"/><path d="M2184.6,629.5L2176.5,645.9L2192.7,645.9Z" fill="#fff"/>
<path d="M2161.6,655.0L2174.8,682.0L2148.4,682.0Z" fill="#FF0000"/><path d="M2161.6,662.8L2153.5,679.2L2169.7,679.2Z" fill="#fff"/>
<path d="M2146.0,675.8L2159.2,702.8L2132.8,702.8Z" fill="#FF0000"/><path d="M2146.0,683.5L2137.9,700.0L2154.1,700.0Z" fill="#fff"/>
<path d="M2127.8,691.4L2141.0,718.4L2114.7,718.4Z" fill="#FF0000"/><path d="M2127.8,699.1L2119.7,715.6L2135.9,715.6Z" fill="#fff"/>
<path d="M2109.6,707.0L2122.8,734.0L2096.4,734.0Z" fill="#FF0000"/><path d="M2109.6,714.8L2101.5,731.2L2117.7,731.2Z" fill="#fff"/>
<path d="M2092.7,718.8L2105.8,745.7L2079.5,745.7Z" fill="#FF0000"/><path d="M2092.7,726.5L2084.6,742.9L2100.8,742.9Z" fill="#fff"/>
<path d="M2073.3,728.5L2086.5,755.5L2060.2,755.5Z" fill="#FF0000"/><path d="M2073.3,736.2L2065.2,752.7L2081.4,752.7Z" fill="#fff"/>
<path d="M2055.2,738.0L2068.3,765.0L2042.0,765.0Z" fill="#FF0000"/><path d="M2055.2,745.8L2047.1,762.2L2063.3,762.2Z" fill="#fff"/>
<path d="M2037.3,746.0L2050.4,773.0L2024.1,773.0Z" fill="#FF0000"/><path d="M2037.3,753.8L2029.2,770.2L2045.4,770.2Z" fill="#fff"/>
<path d="M2018.8,754.0L2032.0,781.0L2005.6,781.0Z" fill="#FF0000"/><path d="M2018.8,761.8L2010.7,778.2L2026.9,778.2Z" fill="#fff"/>
<path d="M2000.6,760.0L2013.8,787.0L1987.4,787.0Z" fill="#FF0000"/><path d="M2000.6,767.8L1992.5,784.2L2008.7,784.2Z" fill="#fff"/>
<path d="M1987.0,770.5L2000.2,797.5L1973.8,797.5Z" fill="#FF0000"/><path d="M1987.0,778.2L1978.9,794.7L1995.1,794.7Z" fill="#fff"/>
<path d="M1964.3,784.3L1977.5,811.2L1951.1,811.2Z" fill="#FF0000"/><path d="M1964.3,792.0L1956.2,808.5L1972.4,808.5Z" fill="#fff"/>
<path d="M1944.8,789.5L1958.0,816.5L1931.6,816.5Z" fill="#FF0000"/><path d="M1944.8,797.2L1936.7,813.7L1952.9,813.7Z" fill="#fff"/>
<path d="M1931.2,794.8L1944.4,821.7L1918.0,821.7Z" fill="#FF0000"/><path d="M1931.2,802.5L1923.1,818.9L1939.3,818.9Z" fill="#fff"/>
<path d="M1911.0,796.5L1924.2,823.5L1897.8,823.5Z" fill="#FF0000"/><path d="M1911.0,804.2L1902.9,820.7L1919.1,820.7Z" fill="#fff"/>
<path d="M1893.0,799.5L1906.2,826.5L1879.8,826.5Z" fill="#FF0000"/><path d="M1893.0,807.2L1884.9,823.7L1901.1,823.7Z" fill="#fff"/>
<path d="M1875.0,803.0L1888.2,830.0L1861.8,830.0Z" fill="#FF0000"/><path d="M1875.0,810.8L1866.9,827.2L1883.1,827.2Z" fill="#fff"/>
<path d="M1857.0,804.8L1870.2,831.7L1843.8,831.7Z" fill="#FF0000"/><path d="M1857.0,812.5L1848.9,828.9L1865.1,828.9Z" fill="#fff"/>
<path d="M1838.0,808.0L1851.2,835.0L1824.8,835.0Z" fill="#FF0000"/><path d="M1838.0,815.8L1829.9,832.2L1846.1,832.2Z" fill="#fff"/>
<path d="M1820.2,810.3L1833.4,837.2L1807.0,837.2Z" fill="#FF0000"/><path d="M1820.2,818.0L1812.1,834.5L1828.3,834.5Z" fill="#fff"/>
<path d="M1802.4,813.6L1815.6,840.6L1789.2,840.6Z" fill="#FF0000"/><path d="M1802.4,821.4L1794.3,837.8L1810.5,837.8Z" fill="#fff"/>
<path d="M1784.6,816.9L1797.8,843.9L1771.4,843.9Z" fill="#FF0000"/><path d="M1784.6,824.6L1776.5,841.1L1792.7,841.1Z" fill="#fff"/>
<path d="M1765.7,819.1L1778.9,846.1L1752.5,846.1Z" fill="#FF0000"/><path d="M1765.7,826.9L1757.6,843.3L1773.8,843.3Z" fill="#fff"/>
<path d="M1747.9,821.4L1761.1,848.4L1734.8,848.4Z" fill="#FF0000"/><path d="M1747.9,829.1L1739.8,845.6L1756.0,845.6Z" fill="#fff"/>
<path d="M1729.0,824.8L1742.2,851.7L1715.8,851.7Z" fill="#FF0000"/><path d="M1729.0,832.5L1720.9,848.9L1737.1,848.9Z" fill="#fff"/>
<path d="M1711.2,827.2L1724.4,854.2L1698.0,854.2Z" fill="#FF0000"/><path d="M1711.2,835.0L1703.1,851.4L1719.3,851.4Z" fill="#fff"/>
<path d="M1692.7,830.9L1705.9,857.9L1679.5,857.9Z" fill="#FF0000"/><path d="M1692.7,838.6L1684.6,855.1L1700.8,855.1Z" fill="#fff"/>
<path d="M1674.0,834.0L1687.2,861.0L1660.8,861.0Z" fill="#FF0000"/><path d="M1674.0,841.8L1665.9,858.2L1682.1,858.2Z" fill="#fff"/>
<path d="M1656.5,836.5L1669.7,863.5L1643.3,863.5Z" fill="#FF0000"/><path d="M1656.5,844.2L1648.4,860.7L1664.6,860.7Z" fill="#fff"/>
<path d="M1638.0,840.5L1651.2,867.5L1624.8,867.5Z" fill="#FF0000"/><path d="M1638.0,848.2L1629.9,864.7L1646.1,864.7Z" fill="#fff"/>
<path d="M1620.0,844.0L1633.2,871.0L1606.8,871.0Z" fill="#FF0000"/><path d="M1620.0,851.8L1611.9,868.2L1628.1,868.2Z" fill="#fff"/>
<path d="M1605.0,845.5L1618.2,872.5L1591.8,872.5Z" fill="#FF0000"/><path d="M1605.0,853.2L1596.9,869.7L1613.1,869.7Z" fill="#fff"/>
</g>
</svg></body></html>
